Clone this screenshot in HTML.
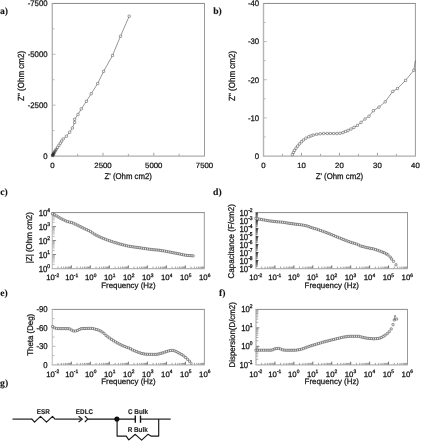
<!DOCTYPE html>
<html><head><meta charset="utf-8"><title>figure</title>
<style>
html,body{margin:0;padding:0;background:#fff;}
body{width:421px;height:441px;overflow:hidden;font-family:"Liberation Sans",sans-serif;}
svg{display:block;will-change:transform;filter:grayscale(1);}
text{text-rendering:geometricPrecision;}
</style></head><body>
<svg width="421" height="441" viewBox="0 0 421 441">
<rect width="421" height="441" fill="#fff"/>
<line x1="51.70" y1="3.45" x2="205.00" y2="3.45" stroke="#8a8a8a" stroke-width="1.0"/>
<line x1="204.50" y1="3.45" x2="204.50" y2="156.00" stroke="#9a9a9a" stroke-width="1.0"/>
<line x1="52.30" y1="3.45" x2="52.30" y2="156.00" stroke="#b4b4b4" stroke-width="1.4"/>
<line x1="51.70" y1="156.00" x2="205.00" y2="156.00" stroke="#aeaeae" stroke-width="1.25"/>
<line x1="77.67" y1="155.60" x2="77.67" y2="153.90" stroke="#777" stroke-width="0.7"/>
<line x1="52.80" y1="130.57" x2="54.50" y2="130.57" stroke="#aaa" stroke-width="0.8"/>
<line x1="103.03" y1="155.60" x2="103.03" y2="152.80" stroke="#777" stroke-width="0.7"/>
<line x1="52.80" y1="105.15" x2="55.60" y2="105.15" stroke="#aaa" stroke-width="0.8"/>
<line x1="128.40" y1="155.60" x2="128.40" y2="153.90" stroke="#777" stroke-width="0.7"/>
<line x1="52.80" y1="79.72" x2="54.50" y2="79.72" stroke="#aaa" stroke-width="0.8"/>
<line x1="153.77" y1="155.60" x2="153.77" y2="152.80" stroke="#777" stroke-width="0.7"/>
<line x1="52.80" y1="54.30" x2="55.60" y2="54.30" stroke="#aaa" stroke-width="0.8"/>
<line x1="179.13" y1="155.60" x2="179.13" y2="153.90" stroke="#777" stroke-width="0.7"/>
<line x1="52.80" y1="28.88" x2="54.50" y2="28.88" stroke="#aaa" stroke-width="0.8"/>
<text transform="translate(52.30 165.00) scale(1 0.98)" y="2.79" font-size="7.8" text-anchor="middle" font-family="Liberation Sans" font-weight="normal" fill="#161616" stroke="#161616" stroke-width="0.25">0</text>
<text transform="translate(103.03 165.00) scale(1 0.98)" y="2.79" font-size="7.8" text-anchor="middle" font-family="Liberation Sans" font-weight="normal" fill="#161616" stroke="#161616" stroke-width="0.25">2500</text>
<text transform="translate(153.77 165.00) scale(1 0.98)" y="2.79" font-size="7.8" text-anchor="middle" font-family="Liberation Sans" font-weight="normal" fill="#161616" stroke="#161616" stroke-width="0.25">5000</text>
<text transform="translate(204.50 165.00) scale(1 0.98)" y="2.79" font-size="7.8" text-anchor="middle" font-family="Liberation Sans" font-weight="normal" fill="#161616" stroke="#161616" stroke-width="0.25">7500</text>
<text transform="translate(47.60 155.90) scale(1 1.04)" y="2.79" font-size="7.8" text-anchor="end" font-family="Liberation Sans" font-weight="normal" fill="#161616" stroke="#161616" stroke-width="0.25">0</text>
<text transform="translate(47.60 105.05) scale(1 1.04)" y="2.79" font-size="7.8" text-anchor="end" font-family="Liberation Sans" font-weight="normal" fill="#161616" stroke="#161616" stroke-width="0.25">-2500</text>
<text transform="translate(47.60 54.20) scale(1 1.04)" y="2.79" font-size="7.8" text-anchor="end" font-family="Liberation Sans" font-weight="normal" fill="#161616" stroke="#161616" stroke-width="0.25">-5000</text>
<text transform="translate(47.60 3.35) scale(1 1.04)" y="2.79" font-size="7.8" text-anchor="end" font-family="Liberation Sans" font-weight="normal" fill="#161616" stroke="#161616" stroke-width="0.25">-7500</text>
<text transform="translate(128.20 176.10) scale(1 1.07)" y="2.79" font-size="7.8" text-anchor="middle" font-family="Liberation Sans" font-weight="normal" fill="#161616" stroke="#161616" stroke-width="0.25">Z' (Ohm cm2)</text>
<text transform="translate(20.90 75.90) rotate(-90) scale(1 1.1)" y="2.88" font-size="8.05" text-anchor="middle" font-family="Liberation Sans" font-weight="normal" fill="#161616" stroke="#161616" stroke-width="0.25">Z" (Ohm cm2)</text>
<polyline fill="none" stroke="#303030" stroke-width="0.5" stroke-linejoin="round" points="129.20,16.20 120.50,36.20 112.50,55.50 103.60,71.30 97.70,83.50 91.20,93.70 86.40,101.30 81.30,108.90 78.00,114.50 74.60,119.30 74.60,122.40 72.40,128.00 69.70,132.20 66.40,136.20 63.20,139.00 61.60,141.20 60.30,143.20 58.90,145.40 57.50,147.40 56.30,149.30 55.30,150.70 54.60,151.90 54.00,152.90 53.60,153.70 53.20,154.40 52.90,154.90 52.70,155.30 52.50,155.60"/>
<polyline fill="none" stroke="#2a2a2a" stroke-width="1.7" stroke-linejoin="round" points="52.50,155.50 53.80,153.40"/>
<polyline fill="none" stroke="#666" stroke-width="1.0" stroke-linejoin="round" points="53.80,153.40 55.00,151.40"/>
<rect x="128.05" y="15.05" width="2.3" height="2.3" rx="0.5" fill="#fff" stroke="#303030" stroke-width="0.45"/>
<rect x="119.35" y="35.05" width="2.3" height="2.3" rx="0.5" fill="#fff" stroke="#303030" stroke-width="0.45"/>
<rect x="111.35" y="54.35" width="2.3" height="2.3" rx="0.5" fill="#fff" stroke="#303030" stroke-width="0.45"/>
<rect x="102.45" y="70.15" width="2.3" height="2.3" rx="0.5" fill="#fff" stroke="#303030" stroke-width="0.45"/>
<rect x="96.55" y="82.35" width="2.3" height="2.3" rx="0.5" fill="#fff" stroke="#303030" stroke-width="0.45"/>
<rect x="90.05" y="92.55" width="2.3" height="2.3" rx="0.5" fill="#fff" stroke="#303030" stroke-width="0.45"/>
<rect x="85.25" y="100.15" width="2.3" height="2.3" rx="0.5" fill="#fff" stroke="#303030" stroke-width="0.45"/>
<rect x="80.15" y="107.75" width="2.3" height="2.3" rx="0.5" fill="#fff" stroke="#303030" stroke-width="0.45"/>
<rect x="76.85" y="113.35" width="2.3" height="2.3" rx="0.5" fill="#fff" stroke="#303030" stroke-width="0.45"/>
<rect x="73.45" y="118.15" width="2.3" height="2.3" rx="0.5" fill="#fff" stroke="#303030" stroke-width="0.45"/>
<rect x="73.45" y="121.25" width="2.3" height="2.3" rx="0.5" fill="#fff" stroke="#303030" stroke-width="0.45"/>
<rect x="71.25" y="126.85" width="2.3" height="2.3" rx="0.5" fill="#fff" stroke="#303030" stroke-width="0.45"/>
<rect x="68.55" y="131.05" width="2.3" height="2.3" rx="0.5" fill="#fff" stroke="#303030" stroke-width="0.45"/>
<rect x="65.25" y="135.05" width="2.3" height="2.3" rx="0.5" fill="#fff" stroke="#303030" stroke-width="0.45"/>
<rect x="62.05" y="137.85" width="2.3" height="2.3" rx="0.5" fill="#fff" stroke="#303030" stroke-width="0.45"/>
<rect x="60.45" y="140.05" width="2.3" height="2.3" rx="0.5" fill="#fff" stroke="#303030" stroke-width="0.45"/>
<rect x="59.15" y="142.05" width="2.3" height="2.3" rx="0.5" fill="#fff" stroke="#303030" stroke-width="0.45"/>
<rect x="57.75" y="144.25" width="2.3" height="2.3" rx="0.5" fill="#fff" stroke="#303030" stroke-width="0.45"/>
<rect x="56.35" y="146.25" width="2.3" height="2.3" rx="0.5" fill="#fff" stroke="#303030" stroke-width="0.45"/>
<rect x="55.15" y="148.15" width="2.3" height="2.3" rx="0.5" fill="none" stroke="#303030" stroke-width="0.45"/>
<rect x="54.15" y="149.55" width="2.3" height="2.3" rx="0.5" fill="none" stroke="#303030" stroke-width="0.45"/>
<rect x="53.45" y="150.75" width="2.3" height="2.3" rx="0.5" fill="none" stroke="#303030" stroke-width="0.45"/>
<rect x="52.85" y="151.75" width="2.3" height="2.3" rx="0.5" fill="none" stroke="#303030" stroke-width="0.45"/>
<rect x="52.45" y="152.55" width="2.3" height="2.3" rx="0.5" fill="none" stroke="#303030" stroke-width="0.45"/>
<rect x="52.05" y="153.25" width="2.3" height="2.3" rx="0.5" fill="none" stroke="#303030" stroke-width="0.45"/>
<rect x="51.75" y="153.75" width="2.3" height="2.3" rx="0.5" fill="none" stroke="#303030" stroke-width="0.45"/>
<rect x="51.55" y="154.15" width="2.3" height="2.3" rx="0.5" fill="none" stroke="#303030" stroke-width="0.45"/>
<rect x="51.35" y="154.45" width="2.3" height="2.3" rx="0.5" fill="none" stroke="#303030" stroke-width="0.45"/>
<line x1="262.90" y1="3.45" x2="415.90" y2="3.45" stroke="#8a8a8a" stroke-width="1.0"/>
<line x1="415.40" y1="3.45" x2="415.40" y2="156.00" stroke="#9a9a9a" stroke-width="1.0"/>
<line x1="263.50" y1="3.45" x2="263.50" y2="156.00" stroke="#b4b4b4" stroke-width="1.4"/>
<line x1="262.90" y1="156.00" x2="415.90" y2="156.00" stroke="#aeaeae" stroke-width="1.25"/>
<line x1="282.49" y1="155.60" x2="282.49" y2="153.90" stroke="#777" stroke-width="0.7"/>
<line x1="264.00" y1="136.93" x2="265.70" y2="136.93" stroke="#aaa" stroke-width="0.8"/>
<line x1="301.48" y1="155.60" x2="301.48" y2="152.80" stroke="#777" stroke-width="0.7"/>
<line x1="264.00" y1="117.86" x2="266.80" y2="117.86" stroke="#aaa" stroke-width="0.8"/>
<line x1="320.46" y1="155.60" x2="320.46" y2="153.90" stroke="#777" stroke-width="0.7"/>
<line x1="264.00" y1="98.79" x2="265.70" y2="98.79" stroke="#aaa" stroke-width="0.8"/>
<line x1="339.45" y1="155.60" x2="339.45" y2="152.80" stroke="#777" stroke-width="0.7"/>
<line x1="264.00" y1="79.72" x2="266.80" y2="79.72" stroke="#aaa" stroke-width="0.8"/>
<line x1="358.44" y1="155.60" x2="358.44" y2="153.90" stroke="#777" stroke-width="0.7"/>
<line x1="264.00" y1="60.66" x2="265.70" y2="60.66" stroke="#aaa" stroke-width="0.8"/>
<line x1="377.42" y1="155.60" x2="377.42" y2="152.80" stroke="#777" stroke-width="0.7"/>
<line x1="264.00" y1="41.59" x2="266.80" y2="41.59" stroke="#aaa" stroke-width="0.8"/>
<line x1="396.41" y1="155.60" x2="396.41" y2="153.90" stroke="#777" stroke-width="0.7"/>
<line x1="264.00" y1="22.52" x2="265.70" y2="22.52" stroke="#aaa" stroke-width="0.8"/>
<text transform="translate(263.50 165.00) scale(1 0.98)" y="2.79" font-size="7.8" text-anchor="middle" font-family="Liberation Sans" font-weight="normal" fill="#161616" stroke="#161616" stroke-width="0.25">0</text>
<text transform="translate(301.48 165.00) scale(1 0.98)" y="2.79" font-size="7.8" text-anchor="middle" font-family="Liberation Sans" font-weight="normal" fill="#161616" stroke="#161616" stroke-width="0.25">10</text>
<text transform="translate(339.45 165.00) scale(1 0.98)" y="2.79" font-size="7.8" text-anchor="middle" font-family="Liberation Sans" font-weight="normal" fill="#161616" stroke="#161616" stroke-width="0.25">20</text>
<text transform="translate(377.42 165.00) scale(1 0.98)" y="2.79" font-size="7.8" text-anchor="middle" font-family="Liberation Sans" font-weight="normal" fill="#161616" stroke="#161616" stroke-width="0.25">30</text>
<text transform="translate(415.40 165.00) scale(1 0.98)" y="2.79" font-size="7.8" text-anchor="middle" font-family="Liberation Sans" font-weight="normal" fill="#161616" stroke="#161616" stroke-width="0.25">40</text>
<text transform="translate(259.20 155.90) scale(1 1.04)" y="2.79" font-size="7.8" text-anchor="end" font-family="Liberation Sans" font-weight="normal" fill="#161616" stroke="#161616" stroke-width="0.25">0</text>
<text transform="translate(259.20 117.76) scale(1 1.04)" y="2.79" font-size="7.8" text-anchor="end" font-family="Liberation Sans" font-weight="normal" fill="#161616" stroke="#161616" stroke-width="0.25">-10</text>
<text transform="translate(259.20 79.62) scale(1 1.04)" y="2.79" font-size="7.8" text-anchor="end" font-family="Liberation Sans" font-weight="normal" fill="#161616" stroke="#161616" stroke-width="0.25">-20</text>
<text transform="translate(259.20 41.49) scale(1 1.04)" y="2.79" font-size="7.8" text-anchor="end" font-family="Liberation Sans" font-weight="normal" fill="#161616" stroke="#161616" stroke-width="0.25">-30</text>
<text transform="translate(259.20 3.35) scale(1 1.04)" y="2.79" font-size="7.8" text-anchor="end" font-family="Liberation Sans" font-weight="normal" fill="#161616" stroke="#161616" stroke-width="0.25">-40</text>
<text transform="translate(339.40 176.10) scale(1 1.07)" y="2.79" font-size="7.8" text-anchor="middle" font-family="Liberation Sans" font-weight="normal" fill="#161616" stroke="#161616" stroke-width="0.25">Z' (Ohm cm2)</text>
<text transform="translate(231.90 75.90) rotate(-90) scale(1 1.1)" y="2.88" font-size="8.05" text-anchor="middle" font-family="Liberation Sans" font-weight="normal" fill="#161616" stroke="#161616" stroke-width="0.25">Z" (Ohm cm2)</text>
<polyline fill="none" stroke="#303030" stroke-width="0.5" stroke-linejoin="round" points="415.40,60.50 413.80,70.30 405.50,80.40 397.50,88.50 392.80,91.40 385.20,101.80 379.00,107.10 373.40,110.70 369.00,116.20 365.00,119.00 361.00,122.40 357.40,125.40 354.00,127.40 351.00,129.00 348.00,130.50 345.50,131.50 343.00,132.50 340.10,133.30 337.00,133.50 333.70,133.50 330.40,133.50 327.30,133.50 323.70,133.50 320.20,133.80 316.60,134.30 313.10,135.10 310.90,135.90 308.80,136.80 305.90,138.20 303.40,140.00 301.40,141.80 299.50,143.90 297.70,146.10 296.00,148.20 294.50,150.40 293.40,152.50 292.40,154.60"/>
<rect x="412.65" y="69.15" width="2.3" height="2.3" rx="0.5" fill="#fff" stroke="#303030" stroke-width="0.45"/>
<rect x="404.35" y="79.25" width="2.3" height="2.3" rx="0.5" fill="#fff" stroke="#303030" stroke-width="0.45"/>
<rect x="396.35" y="87.35" width="2.3" height="2.3" rx="0.5" fill="#fff" stroke="#303030" stroke-width="0.45"/>
<rect x="391.65" y="90.25" width="2.3" height="2.3" rx="0.5" fill="#fff" stroke="#303030" stroke-width="0.45"/>
<rect x="384.05" y="100.65" width="2.3" height="2.3" rx="0.5" fill="#fff" stroke="#303030" stroke-width="0.45"/>
<rect x="377.85" y="105.95" width="2.3" height="2.3" rx="0.5" fill="#fff" stroke="#303030" stroke-width="0.45"/>
<rect x="372.25" y="109.55" width="2.3" height="2.3" rx="0.5" fill="#fff" stroke="#303030" stroke-width="0.45"/>
<rect x="367.85" y="115.05" width="2.3" height="2.3" rx="0.5" fill="#fff" stroke="#303030" stroke-width="0.45"/>
<rect x="363.85" y="117.85" width="2.3" height="2.3" rx="0.5" fill="#fff" stroke="#303030" stroke-width="0.45"/>
<rect x="359.85" y="121.25" width="2.3" height="2.3" rx="0.5" fill="#fff" stroke="#303030" stroke-width="0.45"/>
<rect x="356.25" y="124.25" width="2.3" height="2.3" rx="0.5" fill="#fff" stroke="#303030" stroke-width="0.45"/>
<rect x="352.85" y="126.25" width="2.3" height="2.3" rx="0.5" fill="#fff" stroke="#303030" stroke-width="0.45"/>
<rect x="349.85" y="127.85" width="2.3" height="2.3" rx="0.5" fill="#fff" stroke="#303030" stroke-width="0.45"/>
<rect x="346.85" y="129.35" width="2.3" height="2.3" rx="0.5" fill="#fff" stroke="#303030" stroke-width="0.45"/>
<rect x="344.35" y="130.35" width="2.3" height="2.3" rx="0.5" fill="#fff" stroke="#303030" stroke-width="0.45"/>
<rect x="341.85" y="131.35" width="2.3" height="2.3" rx="0.5" fill="#fff" stroke="#303030" stroke-width="0.45"/>
<rect x="338.95" y="132.15" width="2.3" height="2.3" rx="0.5" fill="#fff" stroke="#303030" stroke-width="0.45"/>
<rect x="335.85" y="132.35" width="2.3" height="2.3" rx="0.5" fill="#fff" stroke="#303030" stroke-width="0.45"/>
<rect x="332.55" y="132.35" width="2.3" height="2.3" rx="0.5" fill="#fff" stroke="#303030" stroke-width="0.45"/>
<rect x="329.25" y="132.35" width="2.3" height="2.3" rx="0.5" fill="#fff" stroke="#303030" stroke-width="0.45"/>
<rect x="326.15" y="132.35" width="2.3" height="2.3" rx="0.5" fill="#fff" stroke="#303030" stroke-width="0.45"/>
<rect x="322.55" y="132.35" width="2.3" height="2.3" rx="0.5" fill="#fff" stroke="#303030" stroke-width="0.45"/>
<rect x="319.05" y="132.65" width="2.3" height="2.3" rx="0.5" fill="#fff" stroke="#303030" stroke-width="0.45"/>
<rect x="315.45" y="133.15" width="2.3" height="2.3" rx="0.5" fill="#fff" stroke="#303030" stroke-width="0.45"/>
<rect x="311.95" y="133.95" width="2.3" height="2.3" rx="0.5" fill="#fff" stroke="#303030" stroke-width="0.45"/>
<rect x="309.75" y="134.75" width="2.3" height="2.3" rx="0.5" fill="#fff" stroke="#303030" stroke-width="0.45"/>
<rect x="307.65" y="135.65" width="2.3" height="2.3" rx="0.5" fill="#fff" stroke="#303030" stroke-width="0.45"/>
<rect x="304.75" y="137.05" width="2.3" height="2.3" rx="0.5" fill="#fff" stroke="#303030" stroke-width="0.45"/>
<rect x="302.25" y="138.85" width="2.3" height="2.3" rx="0.5" fill="#fff" stroke="#303030" stroke-width="0.45"/>
<rect x="300.25" y="140.65" width="2.3" height="2.3" rx="0.5" fill="#fff" stroke="#303030" stroke-width="0.45"/>
<rect x="298.35" y="142.75" width="2.3" height="2.3" rx="0.5" fill="#fff" stroke="#303030" stroke-width="0.45"/>
<rect x="296.55" y="144.95" width="2.3" height="2.3" rx="0.5" fill="#fff" stroke="#303030" stroke-width="0.45"/>
<rect x="294.85" y="147.05" width="2.3" height="2.3" rx="0.5" fill="#fff" stroke="#303030" stroke-width="0.45"/>
<rect x="293.35" y="149.25" width="2.3" height="2.3" rx="0.5" fill="#fff" stroke="#303030" stroke-width="0.45"/>
<rect x="292.25" y="151.35" width="2.3" height="2.3" rx="0.5" fill="#fff" stroke="#303030" stroke-width="0.45"/>
<rect x="291.25" y="153.45" width="2.3" height="2.3" rx="0.5" fill="#fff" stroke="#303030" stroke-width="0.45"/>
<line x1="51.70" y1="212.60" x2="204.80" y2="212.60" stroke="#8a8a8a" stroke-width="1.0"/>
<line x1="204.30" y1="212.60" x2="204.30" y2="268.50" stroke="#9a9a9a" stroke-width="1.0"/>
<line x1="52.30" y1="212.60" x2="52.30" y2="268.50" stroke="#c6c6c6" stroke-width="1.25"/>
<line x1="51.70" y1="268.50" x2="204.80" y2="268.50" stroke="#b6b6b6" stroke-width="1.25"/>
<line x1="58.02" y1="268.20" x2="58.02" y2="266.60" stroke="#5c5c5c" stroke-width="0.6"/>
<line x1="61.37" y1="268.20" x2="61.37" y2="266.60" stroke="#5c5c5c" stroke-width="0.6"/>
<line x1="63.74" y1="268.20" x2="63.74" y2="266.60" stroke="#5c5c5c" stroke-width="0.6"/>
<line x1="65.58" y1="268.20" x2="65.58" y2="266.60" stroke="#5c5c5c" stroke-width="0.6"/>
<line x1="67.08" y1="268.20" x2="67.08" y2="266.60" stroke="#5c5c5c" stroke-width="0.6"/>
<line x1="68.36" y1="268.20" x2="68.36" y2="266.60" stroke="#5c5c5c" stroke-width="0.6"/>
<line x1="69.46" y1="268.20" x2="69.46" y2="266.60" stroke="#5c5c5c" stroke-width="0.6"/>
<line x1="70.43" y1="268.20" x2="70.43" y2="266.60" stroke="#5c5c5c" stroke-width="0.6"/>
<line x1="71.30" y1="268.20" x2="71.30" y2="265.40" stroke="#484848" stroke-width="0.8"/>
<line x1="77.02" y1="268.20" x2="77.02" y2="266.60" stroke="#5c5c5c" stroke-width="0.6"/>
<line x1="80.37" y1="268.20" x2="80.37" y2="266.60" stroke="#5c5c5c" stroke-width="0.6"/>
<line x1="82.74" y1="268.20" x2="82.74" y2="266.60" stroke="#5c5c5c" stroke-width="0.6"/>
<line x1="84.58" y1="268.20" x2="84.58" y2="266.60" stroke="#5c5c5c" stroke-width="0.6"/>
<line x1="86.08" y1="268.20" x2="86.08" y2="266.60" stroke="#5c5c5c" stroke-width="0.6"/>
<line x1="87.36" y1="268.20" x2="87.36" y2="266.60" stroke="#5c5c5c" stroke-width="0.6"/>
<line x1="88.46" y1="268.20" x2="88.46" y2="266.60" stroke="#5c5c5c" stroke-width="0.6"/>
<line x1="89.43" y1="268.20" x2="89.43" y2="266.60" stroke="#5c5c5c" stroke-width="0.6"/>
<line x1="90.30" y1="268.20" x2="90.30" y2="265.40" stroke="#484848" stroke-width="0.8"/>
<line x1="96.02" y1="268.20" x2="96.02" y2="266.60" stroke="#5c5c5c" stroke-width="0.6"/>
<line x1="99.37" y1="268.20" x2="99.37" y2="266.60" stroke="#5c5c5c" stroke-width="0.6"/>
<line x1="101.74" y1="268.20" x2="101.74" y2="266.60" stroke="#5c5c5c" stroke-width="0.6"/>
<line x1="103.58" y1="268.20" x2="103.58" y2="266.60" stroke="#5c5c5c" stroke-width="0.6"/>
<line x1="105.08" y1="268.20" x2="105.08" y2="266.60" stroke="#5c5c5c" stroke-width="0.6"/>
<line x1="106.36" y1="268.20" x2="106.36" y2="266.60" stroke="#5c5c5c" stroke-width="0.6"/>
<line x1="107.46" y1="268.20" x2="107.46" y2="266.60" stroke="#5c5c5c" stroke-width="0.6"/>
<line x1="108.43" y1="268.20" x2="108.43" y2="266.60" stroke="#5c5c5c" stroke-width="0.6"/>
<line x1="109.30" y1="268.20" x2="109.30" y2="265.40" stroke="#484848" stroke-width="0.8"/>
<line x1="115.02" y1="268.20" x2="115.02" y2="266.60" stroke="#5c5c5c" stroke-width="0.6"/>
<line x1="118.37" y1="268.20" x2="118.37" y2="266.60" stroke="#5c5c5c" stroke-width="0.6"/>
<line x1="120.74" y1="268.20" x2="120.74" y2="266.60" stroke="#5c5c5c" stroke-width="0.6"/>
<line x1="122.58" y1="268.20" x2="122.58" y2="266.60" stroke="#5c5c5c" stroke-width="0.6"/>
<line x1="124.08" y1="268.20" x2="124.08" y2="266.60" stroke="#5c5c5c" stroke-width="0.6"/>
<line x1="125.36" y1="268.20" x2="125.36" y2="266.60" stroke="#5c5c5c" stroke-width="0.6"/>
<line x1="126.46" y1="268.20" x2="126.46" y2="266.60" stroke="#5c5c5c" stroke-width="0.6"/>
<line x1="127.43" y1="268.20" x2="127.43" y2="266.60" stroke="#5c5c5c" stroke-width="0.6"/>
<line x1="128.30" y1="268.20" x2="128.30" y2="265.40" stroke="#484848" stroke-width="0.8"/>
<line x1="134.02" y1="268.20" x2="134.02" y2="266.60" stroke="#5c5c5c" stroke-width="0.6"/>
<line x1="137.37" y1="268.20" x2="137.37" y2="266.60" stroke="#5c5c5c" stroke-width="0.6"/>
<line x1="139.74" y1="268.20" x2="139.74" y2="266.60" stroke="#5c5c5c" stroke-width="0.6"/>
<line x1="141.58" y1="268.20" x2="141.58" y2="266.60" stroke="#5c5c5c" stroke-width="0.6"/>
<line x1="143.08" y1="268.20" x2="143.08" y2="266.60" stroke="#5c5c5c" stroke-width="0.6"/>
<line x1="144.36" y1="268.20" x2="144.36" y2="266.60" stroke="#5c5c5c" stroke-width="0.6"/>
<line x1="145.46" y1="268.20" x2="145.46" y2="266.60" stroke="#5c5c5c" stroke-width="0.6"/>
<line x1="146.43" y1="268.20" x2="146.43" y2="266.60" stroke="#5c5c5c" stroke-width="0.6"/>
<line x1="147.30" y1="268.20" x2="147.30" y2="265.40" stroke="#484848" stroke-width="0.8"/>
<line x1="153.02" y1="268.20" x2="153.02" y2="266.60" stroke="#5c5c5c" stroke-width="0.6"/>
<line x1="156.37" y1="268.20" x2="156.37" y2="266.60" stroke="#5c5c5c" stroke-width="0.6"/>
<line x1="158.74" y1="268.20" x2="158.74" y2="266.60" stroke="#5c5c5c" stroke-width="0.6"/>
<line x1="160.58" y1="268.20" x2="160.58" y2="266.60" stroke="#5c5c5c" stroke-width="0.6"/>
<line x1="162.08" y1="268.20" x2="162.08" y2="266.60" stroke="#5c5c5c" stroke-width="0.6"/>
<line x1="163.36" y1="268.20" x2="163.36" y2="266.60" stroke="#5c5c5c" stroke-width="0.6"/>
<line x1="164.46" y1="268.20" x2="164.46" y2="266.60" stroke="#5c5c5c" stroke-width="0.6"/>
<line x1="165.43" y1="268.20" x2="165.43" y2="266.60" stroke="#5c5c5c" stroke-width="0.6"/>
<line x1="166.30" y1="268.20" x2="166.30" y2="265.40" stroke="#484848" stroke-width="0.8"/>
<line x1="172.02" y1="268.20" x2="172.02" y2="266.60" stroke="#5c5c5c" stroke-width="0.6"/>
<line x1="175.37" y1="268.20" x2="175.37" y2="266.60" stroke="#5c5c5c" stroke-width="0.6"/>
<line x1="177.74" y1="268.20" x2="177.74" y2="266.60" stroke="#5c5c5c" stroke-width="0.6"/>
<line x1="179.58" y1="268.20" x2="179.58" y2="266.60" stroke="#5c5c5c" stroke-width="0.6"/>
<line x1="181.08" y1="268.20" x2="181.08" y2="266.60" stroke="#5c5c5c" stroke-width="0.6"/>
<line x1="182.36" y1="268.20" x2="182.36" y2="266.60" stroke="#5c5c5c" stroke-width="0.6"/>
<line x1="183.46" y1="268.20" x2="183.46" y2="266.60" stroke="#5c5c5c" stroke-width="0.6"/>
<line x1="184.43" y1="268.20" x2="184.43" y2="266.60" stroke="#5c5c5c" stroke-width="0.6"/>
<line x1="185.30" y1="268.20" x2="185.30" y2="265.40" stroke="#484848" stroke-width="0.8"/>
<line x1="191.02" y1="268.20" x2="191.02" y2="266.60" stroke="#5c5c5c" stroke-width="0.6"/>
<line x1="194.37" y1="268.20" x2="194.37" y2="266.60" stroke="#5c5c5c" stroke-width="0.6"/>
<line x1="196.74" y1="268.20" x2="196.74" y2="266.60" stroke="#5c5c5c" stroke-width="0.6"/>
<line x1="198.58" y1="268.20" x2="198.58" y2="266.60" stroke="#5c5c5c" stroke-width="0.6"/>
<line x1="200.08" y1="268.20" x2="200.08" y2="266.60" stroke="#5c5c5c" stroke-width="0.6"/>
<line x1="201.36" y1="268.20" x2="201.36" y2="266.60" stroke="#5c5c5c" stroke-width="0.6"/>
<line x1="202.46" y1="268.20" x2="202.46" y2="266.60" stroke="#5c5c5c" stroke-width="0.6"/>
<line x1="203.43" y1="268.20" x2="203.43" y2="266.60" stroke="#5c5c5c" stroke-width="0.6"/>
<line x1="52.60" y1="264.29" x2="54.70" y2="264.29" stroke="#848484" stroke-width="0.6"/>
<line x1="52.60" y1="261.83" x2="54.70" y2="261.83" stroke="#848484" stroke-width="0.6"/>
<line x1="52.60" y1="260.09" x2="54.70" y2="260.09" stroke="#848484" stroke-width="0.6"/>
<line x1="52.60" y1="258.73" x2="54.70" y2="258.73" stroke="#848484" stroke-width="0.6"/>
<line x1="52.60" y1="257.63" x2="54.70" y2="257.63" stroke="#848484" stroke-width="0.6"/>
<line x1="52.60" y1="256.69" x2="54.70" y2="256.69" stroke="#848484" stroke-width="0.6"/>
<line x1="52.60" y1="255.88" x2="54.70" y2="255.88" stroke="#848484" stroke-width="0.6"/>
<line x1="52.60" y1="255.16" x2="54.70" y2="255.16" stroke="#848484" stroke-width="0.6"/>
<line x1="52.60" y1="254.53" x2="56.10" y2="254.53" stroke="#6a6a6a" stroke-width="0.8"/>
<line x1="52.60" y1="250.32" x2="54.70" y2="250.32" stroke="#848484" stroke-width="0.6"/>
<line x1="52.60" y1="247.86" x2="54.70" y2="247.86" stroke="#848484" stroke-width="0.6"/>
<line x1="52.60" y1="246.11" x2="54.70" y2="246.11" stroke="#848484" stroke-width="0.6"/>
<line x1="52.60" y1="244.76" x2="54.70" y2="244.76" stroke="#848484" stroke-width="0.6"/>
<line x1="52.60" y1="243.65" x2="54.70" y2="243.65" stroke="#848484" stroke-width="0.6"/>
<line x1="52.60" y1="242.71" x2="54.70" y2="242.71" stroke="#848484" stroke-width="0.6"/>
<line x1="52.60" y1="241.90" x2="54.70" y2="241.90" stroke="#848484" stroke-width="0.6"/>
<line x1="52.60" y1="241.19" x2="54.70" y2="241.19" stroke="#848484" stroke-width="0.6"/>
<line x1="52.60" y1="240.55" x2="56.10" y2="240.55" stroke="#6a6a6a" stroke-width="0.8"/>
<line x1="52.60" y1="236.34" x2="54.70" y2="236.34" stroke="#848484" stroke-width="0.6"/>
<line x1="52.60" y1="233.88" x2="54.70" y2="233.88" stroke="#848484" stroke-width="0.6"/>
<line x1="52.60" y1="232.14" x2="54.70" y2="232.14" stroke="#848484" stroke-width="0.6"/>
<line x1="52.60" y1="230.78" x2="54.70" y2="230.78" stroke="#848484" stroke-width="0.6"/>
<line x1="52.60" y1="229.68" x2="54.70" y2="229.68" stroke="#848484" stroke-width="0.6"/>
<line x1="52.60" y1="228.74" x2="54.70" y2="228.74" stroke="#848484" stroke-width="0.6"/>
<line x1="52.60" y1="227.93" x2="54.70" y2="227.93" stroke="#848484" stroke-width="0.6"/>
<line x1="52.60" y1="227.21" x2="54.70" y2="227.21" stroke="#848484" stroke-width="0.6"/>
<line x1="52.60" y1="226.57" x2="56.10" y2="226.57" stroke="#6a6a6a" stroke-width="0.8"/>
<line x1="52.60" y1="222.37" x2="54.70" y2="222.37" stroke="#848484" stroke-width="0.6"/>
<line x1="52.60" y1="219.91" x2="54.70" y2="219.91" stroke="#848484" stroke-width="0.6"/>
<line x1="52.60" y1="218.16" x2="54.70" y2="218.16" stroke="#848484" stroke-width="0.6"/>
<line x1="52.60" y1="216.81" x2="54.70" y2="216.81" stroke="#848484" stroke-width="0.6"/>
<line x1="52.60" y1="215.70" x2="54.70" y2="215.70" stroke="#848484" stroke-width="0.6"/>
<line x1="52.60" y1="214.76" x2="54.70" y2="214.76" stroke="#848484" stroke-width="0.6"/>
<line x1="52.60" y1="213.95" x2="54.70" y2="213.95" stroke="#848484" stroke-width="0.6"/>
<line x1="52.60" y1="213.24" x2="54.70" y2="213.24" stroke="#848484" stroke-width="0.6"/>
<text transform="translate(50.10 268.40) scale(1 1.12)" y="2.79" font-size="7.8" text-anchor="end" font-family="Liberation Sans" fill="#161616" stroke="#161616" stroke-width="0.27">10<tspan font-size="4.91" dy="-3.59">0</tspan></text>
<text transform="translate(50.10 254.43) scale(1 1.12)" y="2.79" font-size="7.8" text-anchor="end" font-family="Liberation Sans" fill="#161616" stroke="#161616" stroke-width="0.27">10<tspan font-size="4.91" dy="-3.59">1</tspan></text>
<text transform="translate(50.10 240.45) scale(1 1.12)" y="2.79" font-size="7.8" text-anchor="end" font-family="Liberation Sans" fill="#161616" stroke="#161616" stroke-width="0.27">10<tspan font-size="4.91" dy="-3.59">2</tspan></text>
<text transform="translate(50.10 226.47) scale(1 1.12)" y="2.79" font-size="7.8" text-anchor="end" font-family="Liberation Sans" fill="#161616" stroke="#161616" stroke-width="0.27">10<tspan font-size="4.91" dy="-3.59">3</tspan></text>
<text transform="translate(50.10 212.50) scale(1 1.12)" y="2.79" font-size="7.8" text-anchor="end" font-family="Liberation Sans" fill="#161616" stroke="#161616" stroke-width="0.27">10<tspan font-size="4.91" dy="-3.59">4</tspan></text>
<text transform="translate(52.70 277.40) scale(1 1.0)" y="2.79" font-size="7.8" text-anchor="middle" font-family="Liberation Sans" fill="#161616" stroke="#161616" stroke-width="0.27">10<tspan font-size="4.91" dy="-3.59">-2</tspan></text>
<text transform="translate(71.70 277.40) scale(1 1.0)" y="2.79" font-size="7.8" text-anchor="middle" font-family="Liberation Sans" fill="#161616" stroke="#161616" stroke-width="0.27">10<tspan font-size="4.91" dy="-3.59">-1</tspan></text>
<text transform="translate(90.70 277.40) scale(1 1.0)" y="2.79" font-size="7.8" text-anchor="middle" font-family="Liberation Sans" fill="#161616" stroke="#161616" stroke-width="0.27">10<tspan font-size="4.91" dy="-3.59">0</tspan></text>
<text transform="translate(109.70 277.40) scale(1 1.0)" y="2.79" font-size="7.8" text-anchor="middle" font-family="Liberation Sans" fill="#161616" stroke="#161616" stroke-width="0.27">10<tspan font-size="4.91" dy="-3.59">1</tspan></text>
<text transform="translate(128.70 277.40) scale(1 1.0)" y="2.79" font-size="7.8" text-anchor="middle" font-family="Liberation Sans" fill="#161616" stroke="#161616" stroke-width="0.27">10<tspan font-size="4.91" dy="-3.59">2</tspan></text>
<text transform="translate(147.70 277.40) scale(1 1.0)" y="2.79" font-size="7.8" text-anchor="middle" font-family="Liberation Sans" fill="#161616" stroke="#161616" stroke-width="0.27">10<tspan font-size="4.91" dy="-3.59">3</tspan></text>
<text transform="translate(166.70 277.40) scale(1 1.0)" y="2.79" font-size="7.8" text-anchor="middle" font-family="Liberation Sans" fill="#161616" stroke="#161616" stroke-width="0.27">10<tspan font-size="4.91" dy="-3.59">4</tspan></text>
<text transform="translate(185.70 277.40) scale(1 1.0)" y="2.79" font-size="7.8" text-anchor="middle" font-family="Liberation Sans" fill="#161616" stroke="#161616" stroke-width="0.27">10<tspan font-size="4.91" dy="-3.59">5</tspan></text>
<text transform="translate(204.70 277.40) scale(1 1.0)" y="2.79" font-size="7.8" text-anchor="middle" font-family="Liberation Sans" fill="#161616" stroke="#161616" stroke-width="0.27">10<tspan font-size="4.91" dy="-3.59">6</tspan></text>
<text transform="translate(128.40 284.80) scale(1 1.0)" y="2.83" font-size="7.9" text-anchor="middle" font-family="Liberation Sans" font-weight="normal" fill="#161616" stroke="#161616" stroke-width="0.25">Frequency (Hz)</text>
<text transform="translate(28.90 237.70) rotate(-90) scale(1 1.05)" y="2.86" font-size="8.0" text-anchor="middle" font-family="Liberation Sans" font-weight="normal" fill="#161616" stroke="#161616" stroke-width="0.25">|Z| (Ohm cm2)</text>
<rect x="51.48" y="212.67" width="2.05" height="2.05" rx="0.15" fill="#fff" stroke="#303030" stroke-width="0.5"/>
<rect x="53.38" y="213.76" width="2.05" height="2.05" rx="0.15" fill="#fff" stroke="#303030" stroke-width="0.5"/>
<rect x="55.27" y="214.85" width="2.05" height="2.05" rx="0.15" fill="#fff" stroke="#303030" stroke-width="0.5"/>
<rect x="57.17" y="215.94" width="2.05" height="2.05" rx="0.15" fill="#fff" stroke="#303030" stroke-width="0.5"/>
<rect x="59.07" y="217.03" width="2.05" height="2.05" rx="0.15" fill="#fff" stroke="#303030" stroke-width="0.5"/>
<rect x="60.97" y="218.06" width="2.05" height="2.05" rx="0.15" fill="#fff" stroke="#303030" stroke-width="0.5"/>
<rect x="62.87" y="218.96" width="2.05" height="2.05" rx="0.15" fill="#fff" stroke="#303030" stroke-width="0.5"/>
<rect x="64.77" y="219.86" width="2.05" height="2.05" rx="0.15" fill="#fff" stroke="#303030" stroke-width="0.5"/>
<rect x="66.67" y="220.62" width="2.05" height="2.05" rx="0.15" fill="#fff" stroke="#303030" stroke-width="0.5"/>
<rect x="68.58" y="221.09" width="2.05" height="2.05" rx="0.15" fill="#fff" stroke="#303030" stroke-width="0.5"/>
<rect x="70.48" y="221.56" width="2.05" height="2.05" rx="0.15" fill="#fff" stroke="#303030" stroke-width="0.5"/>
<rect x="72.38" y="222.17" width="2.05" height="2.05" rx="0.15" fill="#fff" stroke="#303030" stroke-width="0.5"/>
<rect x="74.28" y="223.10" width="2.05" height="2.05" rx="0.15" fill="#fff" stroke="#303030" stroke-width="0.5"/>
<rect x="76.18" y="224.04" width="2.05" height="2.05" rx="0.15" fill="#fff" stroke="#303030" stroke-width="0.5"/>
<rect x="78.08" y="224.97" width="2.05" height="2.05" rx="0.15" fill="#fff" stroke="#303030" stroke-width="0.5"/>
<rect x="79.98" y="225.90" width="2.05" height="2.05" rx="0.15" fill="#fff" stroke="#303030" stroke-width="0.5"/>
<rect x="81.88" y="226.84" width="2.05" height="2.05" rx="0.15" fill="#fff" stroke="#303030" stroke-width="0.5"/>
<rect x="83.78" y="227.76" width="2.05" height="2.05" rx="0.15" fill="#fff" stroke="#303030" stroke-width="0.5"/>
<rect x="85.68" y="228.66" width="2.05" height="2.05" rx="0.15" fill="#fff" stroke="#303030" stroke-width="0.5"/>
<rect x="87.58" y="229.56" width="2.05" height="2.05" rx="0.15" fill="#fff" stroke="#303030" stroke-width="0.5"/>
<rect x="89.48" y="230.58" width="2.05" height="2.05" rx="0.15" fill="#fff" stroke="#303030" stroke-width="0.5"/>
<rect x="91.38" y="231.84" width="2.05" height="2.05" rx="0.15" fill="#fff" stroke="#303030" stroke-width="0.5"/>
<rect x="93.28" y="233.11" width="2.05" height="2.05" rx="0.15" fill="#fff" stroke="#303030" stroke-width="0.5"/>
<rect x="95.18" y="234.15" width="2.05" height="2.05" rx="0.15" fill="#fff" stroke="#303030" stroke-width="0.5"/>
<rect x="97.08" y="235.07" width="2.05" height="2.05" rx="0.15" fill="#fff" stroke="#303030" stroke-width="0.5"/>
<rect x="98.98" y="235.99" width="2.05" height="2.05" rx="0.15" fill="#fff" stroke="#303030" stroke-width="0.5"/>
<rect x="100.88" y="236.80" width="2.05" height="2.05" rx="0.15" fill="#fff" stroke="#303030" stroke-width="0.5"/>
<rect x="102.78" y="237.56" width="2.05" height="2.05" rx="0.15" fill="#fff" stroke="#303030" stroke-width="0.5"/>
<rect x="104.68" y="238.33" width="2.05" height="2.05" rx="0.15" fill="#fff" stroke="#303030" stroke-width="0.5"/>
<rect x="106.58" y="239.08" width="2.05" height="2.05" rx="0.15" fill="#fff" stroke="#303030" stroke-width="0.5"/>
<rect x="108.48" y="239.71" width="2.05" height="2.05" rx="0.15" fill="#fff" stroke="#303030" stroke-width="0.5"/>
<rect x="110.38" y="240.34" width="2.05" height="2.05" rx="0.15" fill="#fff" stroke="#303030" stroke-width="0.5"/>
<rect x="112.28" y="240.98" width="2.05" height="2.05" rx="0.15" fill="#fff" stroke="#303030" stroke-width="0.5"/>
<rect x="114.18" y="241.56" width="2.05" height="2.05" rx="0.15" fill="#fff" stroke="#303030" stroke-width="0.5"/>
<rect x="116.08" y="242.13" width="2.05" height="2.05" rx="0.15" fill="#fff" stroke="#303030" stroke-width="0.5"/>
<rect x="117.98" y="242.70" width="2.05" height="2.05" rx="0.15" fill="#fff" stroke="#303030" stroke-width="0.5"/>
<rect x="119.88" y="243.25" width="2.05" height="2.05" rx="0.15" fill="#fff" stroke="#303030" stroke-width="0.5"/>
<rect x="121.78" y="243.74" width="2.05" height="2.05" rx="0.15" fill="#fff" stroke="#303030" stroke-width="0.5"/>
<rect x="123.68" y="244.23" width="2.05" height="2.05" rx="0.15" fill="#fff" stroke="#303030" stroke-width="0.5"/>
<rect x="125.58" y="244.72" width="2.05" height="2.05" rx="0.15" fill="#fff" stroke="#303030" stroke-width="0.5"/>
<rect x="127.48" y="245.09" width="2.05" height="2.05" rx="0.15" fill="#fff" stroke="#303030" stroke-width="0.5"/>
<rect x="129.38" y="245.40" width="2.05" height="2.05" rx="0.15" fill="#fff" stroke="#303030" stroke-width="0.5"/>
<rect x="131.28" y="245.71" width="2.05" height="2.05" rx="0.15" fill="#fff" stroke="#303030" stroke-width="0.5"/>
<rect x="133.18" y="246.02" width="2.05" height="2.05" rx="0.15" fill="#fff" stroke="#303030" stroke-width="0.5"/>
<rect x="135.08" y="246.28" width="2.05" height="2.05" rx="0.15" fill="#fff" stroke="#303030" stroke-width="0.5"/>
<rect x="136.98" y="246.53" width="2.05" height="2.05" rx="0.15" fill="#fff" stroke="#303030" stroke-width="0.5"/>
<rect x="138.88" y="246.79" width="2.05" height="2.05" rx="0.15" fill="#fff" stroke="#303030" stroke-width="0.5"/>
<rect x="140.78" y="247.07" width="2.05" height="2.05" rx="0.15" fill="#fff" stroke="#303030" stroke-width="0.5"/>
<rect x="142.68" y="247.35" width="2.05" height="2.05" rx="0.15" fill="#fff" stroke="#303030" stroke-width="0.5"/>
<rect x="144.58" y="247.64" width="2.05" height="2.05" rx="0.15" fill="#fff" stroke="#303030" stroke-width="0.5"/>
<rect x="146.48" y="247.91" width="2.05" height="2.05" rx="0.15" fill="#fff" stroke="#303030" stroke-width="0.5"/>
<rect x="148.38" y="248.16" width="2.05" height="2.05" rx="0.15" fill="#fff" stroke="#303030" stroke-width="0.5"/>
<rect x="150.28" y="248.41" width="2.05" height="2.05" rx="0.15" fill="#fff" stroke="#303030" stroke-width="0.5"/>
<rect x="152.18" y="248.63" width="2.05" height="2.05" rx="0.15" fill="#fff" stroke="#303030" stroke-width="0.5"/>
<rect x="154.08" y="248.80" width="2.05" height="2.05" rx="0.15" fill="#fff" stroke="#303030" stroke-width="0.5"/>
<rect x="155.98" y="248.97" width="2.05" height="2.05" rx="0.15" fill="#fff" stroke="#303030" stroke-width="0.5"/>
<rect x="157.88" y="249.14" width="2.05" height="2.05" rx="0.15" fill="#fff" stroke="#303030" stroke-width="0.5"/>
<rect x="159.78" y="249.43" width="2.05" height="2.05" rx="0.15" fill="#fff" stroke="#303030" stroke-width="0.5"/>
<rect x="161.68" y="249.74" width="2.05" height="2.05" rx="0.15" fill="#fff" stroke="#303030" stroke-width="0.5"/>
<rect x="163.58" y="250.06" width="2.05" height="2.05" rx="0.15" fill="#fff" stroke="#303030" stroke-width="0.5"/>
<rect x="165.48" y="250.39" width="2.05" height="2.05" rx="0.15" fill="#fff" stroke="#303030" stroke-width="0.5"/>
<rect x="167.38" y="250.76" width="2.05" height="2.05" rx="0.15" fill="#fff" stroke="#303030" stroke-width="0.5"/>
<rect x="169.28" y="251.13" width="2.05" height="2.05" rx="0.15" fill="#fff" stroke="#303030" stroke-width="0.5"/>
<rect x="171.18" y="251.50" width="2.05" height="2.05" rx="0.15" fill="#fff" stroke="#303030" stroke-width="0.5"/>
<rect x="173.08" y="251.87" width="2.05" height="2.05" rx="0.15" fill="#fff" stroke="#303030" stroke-width="0.5"/>
<rect x="174.98" y="252.24" width="2.05" height="2.05" rx="0.15" fill="#fff" stroke="#303030" stroke-width="0.5"/>
<rect x="176.88" y="252.62" width="2.05" height="2.05" rx="0.15" fill="#fff" stroke="#303030" stroke-width="0.5"/>
<rect x="178.78" y="253.00" width="2.05" height="2.05" rx="0.15" fill="#fff" stroke="#303030" stroke-width="0.5"/>
<rect x="180.68" y="253.40" width="2.05" height="2.05" rx="0.15" fill="#fff" stroke="#303030" stroke-width="0.5"/>
<rect x="182.58" y="253.79" width="2.05" height="2.05" rx="0.15" fill="#fff" stroke="#303030" stroke-width="0.5"/>
<rect x="184.48" y="254.19" width="2.05" height="2.05" rx="0.15" fill="#fff" stroke="#303030" stroke-width="0.5"/>
<rect x="186.38" y="254.39" width="2.05" height="2.05" rx="0.15" fill="#fff" stroke="#303030" stroke-width="0.5"/>
<rect x="188.28" y="254.53" width="2.05" height="2.05" rx="0.15" fill="#fff" stroke="#303030" stroke-width="0.5"/>
<rect x="190.18" y="254.68" width="2.05" height="2.05" rx="0.15" fill="#fff" stroke="#303030" stroke-width="0.5"/>
<rect x="192.08" y="254.81" width="2.05" height="2.05" rx="0.15" fill="#fff" stroke="#303030" stroke-width="0.5"/>
<line x1="255.40" y1="212.60" x2="408.00" y2="212.60" stroke="#8a8a8a" stroke-width="1.0"/>
<line x1="407.50" y1="212.60" x2="407.50" y2="268.50" stroke="#9a9a9a" stroke-width="1.0"/>
<line x1="256.00" y1="212.60" x2="256.00" y2="268.50" stroke="#a8a8a8" stroke-width="1.2"/>
<line x1="255.40" y1="268.50" x2="408.00" y2="268.50" stroke="#b6b6b6" stroke-width="1.25"/>
<line x1="261.70" y1="268.20" x2="261.70" y2="266.60" stroke="#5c5c5c" stroke-width="0.6"/>
<line x1="265.04" y1="268.20" x2="265.04" y2="266.60" stroke="#5c5c5c" stroke-width="0.6"/>
<line x1="267.40" y1="268.20" x2="267.40" y2="266.60" stroke="#5c5c5c" stroke-width="0.6"/>
<line x1="269.24" y1="268.20" x2="269.24" y2="266.60" stroke="#5c5c5c" stroke-width="0.6"/>
<line x1="270.74" y1="268.20" x2="270.74" y2="266.60" stroke="#5c5c5c" stroke-width="0.6"/>
<line x1="272.00" y1="268.20" x2="272.00" y2="266.60" stroke="#5c5c5c" stroke-width="0.6"/>
<line x1="273.10" y1="268.20" x2="273.10" y2="266.60" stroke="#5c5c5c" stroke-width="0.6"/>
<line x1="274.07" y1="268.20" x2="274.07" y2="266.60" stroke="#5c5c5c" stroke-width="0.6"/>
<line x1="274.94" y1="268.20" x2="274.94" y2="265.40" stroke="#484848" stroke-width="0.8"/>
<line x1="280.64" y1="268.20" x2="280.64" y2="266.60" stroke="#5c5c5c" stroke-width="0.6"/>
<line x1="283.97" y1="268.20" x2="283.97" y2="266.60" stroke="#5c5c5c" stroke-width="0.6"/>
<line x1="286.34" y1="268.20" x2="286.34" y2="266.60" stroke="#5c5c5c" stroke-width="0.6"/>
<line x1="288.17" y1="268.20" x2="288.17" y2="266.60" stroke="#5c5c5c" stroke-width="0.6"/>
<line x1="289.67" y1="268.20" x2="289.67" y2="266.60" stroke="#5c5c5c" stroke-width="0.6"/>
<line x1="290.94" y1="268.20" x2="290.94" y2="266.60" stroke="#5c5c5c" stroke-width="0.6"/>
<line x1="292.04" y1="268.20" x2="292.04" y2="266.60" stroke="#5c5c5c" stroke-width="0.6"/>
<line x1="293.01" y1="268.20" x2="293.01" y2="266.60" stroke="#5c5c5c" stroke-width="0.6"/>
<line x1="293.88" y1="268.20" x2="293.88" y2="265.40" stroke="#484848" stroke-width="0.8"/>
<line x1="299.58" y1="268.20" x2="299.58" y2="266.60" stroke="#5c5c5c" stroke-width="0.6"/>
<line x1="302.91" y1="268.20" x2="302.91" y2="266.60" stroke="#5c5c5c" stroke-width="0.6"/>
<line x1="305.28" y1="268.20" x2="305.28" y2="266.60" stroke="#5c5c5c" stroke-width="0.6"/>
<line x1="307.11" y1="268.20" x2="307.11" y2="266.60" stroke="#5c5c5c" stroke-width="0.6"/>
<line x1="308.61" y1="268.20" x2="308.61" y2="266.60" stroke="#5c5c5c" stroke-width="0.6"/>
<line x1="309.88" y1="268.20" x2="309.88" y2="266.60" stroke="#5c5c5c" stroke-width="0.6"/>
<line x1="310.98" y1="268.20" x2="310.98" y2="266.60" stroke="#5c5c5c" stroke-width="0.6"/>
<line x1="311.95" y1="268.20" x2="311.95" y2="266.60" stroke="#5c5c5c" stroke-width="0.6"/>
<line x1="312.81" y1="268.20" x2="312.81" y2="265.40" stroke="#484848" stroke-width="0.8"/>
<line x1="318.51" y1="268.20" x2="318.51" y2="266.60" stroke="#5c5c5c" stroke-width="0.6"/>
<line x1="321.85" y1="268.20" x2="321.85" y2="266.60" stroke="#5c5c5c" stroke-width="0.6"/>
<line x1="324.21" y1="268.20" x2="324.21" y2="266.60" stroke="#5c5c5c" stroke-width="0.6"/>
<line x1="326.05" y1="268.20" x2="326.05" y2="266.60" stroke="#5c5c5c" stroke-width="0.6"/>
<line x1="327.55" y1="268.20" x2="327.55" y2="266.60" stroke="#5c5c5c" stroke-width="0.6"/>
<line x1="328.82" y1="268.20" x2="328.82" y2="266.60" stroke="#5c5c5c" stroke-width="0.6"/>
<line x1="329.91" y1="268.20" x2="329.91" y2="266.60" stroke="#5c5c5c" stroke-width="0.6"/>
<line x1="330.88" y1="268.20" x2="330.88" y2="266.60" stroke="#5c5c5c" stroke-width="0.6"/>
<line x1="331.75" y1="268.20" x2="331.75" y2="265.40" stroke="#484848" stroke-width="0.8"/>
<line x1="337.45" y1="268.20" x2="337.45" y2="266.60" stroke="#5c5c5c" stroke-width="0.6"/>
<line x1="340.79" y1="268.20" x2="340.79" y2="266.60" stroke="#5c5c5c" stroke-width="0.6"/>
<line x1="343.15" y1="268.20" x2="343.15" y2="266.60" stroke="#5c5c5c" stroke-width="0.6"/>
<line x1="344.99" y1="268.20" x2="344.99" y2="266.60" stroke="#5c5c5c" stroke-width="0.6"/>
<line x1="346.49" y1="268.20" x2="346.49" y2="266.60" stroke="#5c5c5c" stroke-width="0.6"/>
<line x1="347.75" y1="268.20" x2="347.75" y2="266.60" stroke="#5c5c5c" stroke-width="0.6"/>
<line x1="348.85" y1="268.20" x2="348.85" y2="266.60" stroke="#5c5c5c" stroke-width="0.6"/>
<line x1="349.82" y1="268.20" x2="349.82" y2="266.60" stroke="#5c5c5c" stroke-width="0.6"/>
<line x1="350.69" y1="268.20" x2="350.69" y2="265.40" stroke="#484848" stroke-width="0.8"/>
<line x1="356.39" y1="268.20" x2="356.39" y2="266.60" stroke="#5c5c5c" stroke-width="0.6"/>
<line x1="359.72" y1="268.20" x2="359.72" y2="266.60" stroke="#5c5c5c" stroke-width="0.6"/>
<line x1="362.09" y1="268.20" x2="362.09" y2="266.60" stroke="#5c5c5c" stroke-width="0.6"/>
<line x1="363.92" y1="268.20" x2="363.92" y2="266.60" stroke="#5c5c5c" stroke-width="0.6"/>
<line x1="365.42" y1="268.20" x2="365.42" y2="266.60" stroke="#5c5c5c" stroke-width="0.6"/>
<line x1="366.69" y1="268.20" x2="366.69" y2="266.60" stroke="#5c5c5c" stroke-width="0.6"/>
<line x1="367.79" y1="268.20" x2="367.79" y2="266.60" stroke="#5c5c5c" stroke-width="0.6"/>
<line x1="368.76" y1="268.20" x2="368.76" y2="266.60" stroke="#5c5c5c" stroke-width="0.6"/>
<line x1="369.62" y1="268.20" x2="369.62" y2="265.40" stroke="#484848" stroke-width="0.8"/>
<line x1="375.33" y1="268.20" x2="375.33" y2="266.60" stroke="#5c5c5c" stroke-width="0.6"/>
<line x1="378.66" y1="268.20" x2="378.66" y2="266.60" stroke="#5c5c5c" stroke-width="0.6"/>
<line x1="381.03" y1="268.20" x2="381.03" y2="266.60" stroke="#5c5c5c" stroke-width="0.6"/>
<line x1="382.86" y1="268.20" x2="382.86" y2="266.60" stroke="#5c5c5c" stroke-width="0.6"/>
<line x1="384.36" y1="268.20" x2="384.36" y2="266.60" stroke="#5c5c5c" stroke-width="0.6"/>
<line x1="385.63" y1="268.20" x2="385.63" y2="266.60" stroke="#5c5c5c" stroke-width="0.6"/>
<line x1="386.73" y1="268.20" x2="386.73" y2="266.60" stroke="#5c5c5c" stroke-width="0.6"/>
<line x1="387.70" y1="268.20" x2="387.70" y2="266.60" stroke="#5c5c5c" stroke-width="0.6"/>
<line x1="388.56" y1="268.20" x2="388.56" y2="265.40" stroke="#484848" stroke-width="0.8"/>
<line x1="394.26" y1="268.20" x2="394.26" y2="266.60" stroke="#5c5c5c" stroke-width="0.6"/>
<line x1="397.60" y1="268.20" x2="397.60" y2="266.60" stroke="#5c5c5c" stroke-width="0.6"/>
<line x1="399.96" y1="268.20" x2="399.96" y2="266.60" stroke="#5c5c5c" stroke-width="0.6"/>
<line x1="401.80" y1="268.20" x2="401.80" y2="266.60" stroke="#5c5c5c" stroke-width="0.6"/>
<line x1="403.30" y1="268.20" x2="403.30" y2="266.60" stroke="#5c5c5c" stroke-width="0.6"/>
<line x1="404.57" y1="268.20" x2="404.57" y2="266.60" stroke="#5c5c5c" stroke-width="0.6"/>
<line x1="405.66" y1="268.20" x2="405.66" y2="266.60" stroke="#5c5c5c" stroke-width="0.6"/>
<line x1="406.63" y1="268.20" x2="406.63" y2="266.60" stroke="#5c5c5c" stroke-width="0.6"/>
<line x1="255.90" y1="266.10" x2="257.90" y2="266.10" stroke="#2e2e2e" stroke-width="0.62"/>
<line x1="255.90" y1="264.69" x2="257.90" y2="264.69" stroke="#2e2e2e" stroke-width="0.62"/>
<line x1="255.90" y1="263.69" x2="257.90" y2="263.69" stroke="#2e2e2e" stroke-width="0.62"/>
<line x1="255.90" y1="262.92" x2="257.90" y2="262.92" stroke="#2e2e2e" stroke-width="0.62"/>
<line x1="255.90" y1="262.29" x2="257.90" y2="262.29" stroke="#2e2e2e" stroke-width="0.62"/>
<line x1="255.90" y1="261.75" x2="257.90" y2="261.75" stroke="#2e2e2e" stroke-width="0.62"/>
<line x1="255.90" y1="261.29" x2="257.90" y2="261.29" stroke="#2e2e2e" stroke-width="0.62"/>
<line x1="255.90" y1="260.88" x2="257.90" y2="260.88" stroke="#2e2e2e" stroke-width="0.62"/>
<line x1="255.90" y1="260.51" x2="258.50" y2="260.51" stroke="#262626" stroke-width="0.8"/>
<line x1="255.90" y1="258.11" x2="257.90" y2="258.11" stroke="#2e2e2e" stroke-width="0.62"/>
<line x1="255.90" y1="256.70" x2="257.90" y2="256.70" stroke="#2e2e2e" stroke-width="0.62"/>
<line x1="255.90" y1="255.71" x2="257.90" y2="255.71" stroke="#2e2e2e" stroke-width="0.62"/>
<line x1="255.90" y1="254.93" x2="257.90" y2="254.93" stroke="#2e2e2e" stroke-width="0.62"/>
<line x1="255.90" y1="254.30" x2="257.90" y2="254.30" stroke="#2e2e2e" stroke-width="0.62"/>
<line x1="255.90" y1="253.77" x2="257.90" y2="253.77" stroke="#2e2e2e" stroke-width="0.62"/>
<line x1="255.90" y1="253.30" x2="257.90" y2="253.30" stroke="#2e2e2e" stroke-width="0.62"/>
<line x1="255.90" y1="252.89" x2="257.90" y2="252.89" stroke="#2e2e2e" stroke-width="0.62"/>
<line x1="255.90" y1="252.53" x2="258.50" y2="252.53" stroke="#262626" stroke-width="0.8"/>
<line x1="255.90" y1="250.12" x2="257.90" y2="250.12" stroke="#2e2e2e" stroke-width="0.62"/>
<line x1="255.90" y1="248.72" x2="257.90" y2="248.72" stroke="#2e2e2e" stroke-width="0.62"/>
<line x1="255.90" y1="247.72" x2="257.90" y2="247.72" stroke="#2e2e2e" stroke-width="0.62"/>
<line x1="255.90" y1="246.95" x2="257.90" y2="246.95" stroke="#2e2e2e" stroke-width="0.62"/>
<line x1="255.90" y1="246.31" x2="257.90" y2="246.31" stroke="#2e2e2e" stroke-width="0.62"/>
<line x1="255.90" y1="245.78" x2="257.90" y2="245.78" stroke="#2e2e2e" stroke-width="0.62"/>
<line x1="255.90" y1="245.32" x2="257.90" y2="245.32" stroke="#2e2e2e" stroke-width="0.62"/>
<line x1="255.90" y1="244.91" x2="257.90" y2="244.91" stroke="#2e2e2e" stroke-width="0.62"/>
<line x1="255.90" y1="244.54" x2="258.50" y2="244.54" stroke="#262626" stroke-width="0.8"/>
<line x1="255.90" y1="242.14" x2="257.90" y2="242.14" stroke="#2e2e2e" stroke-width="0.62"/>
<line x1="255.90" y1="240.73" x2="257.90" y2="240.73" stroke="#2e2e2e" stroke-width="0.62"/>
<line x1="255.90" y1="239.73" x2="257.90" y2="239.73" stroke="#2e2e2e" stroke-width="0.62"/>
<line x1="255.90" y1="238.96" x2="257.90" y2="238.96" stroke="#2e2e2e" stroke-width="0.62"/>
<line x1="255.90" y1="238.33" x2="257.90" y2="238.33" stroke="#2e2e2e" stroke-width="0.62"/>
<line x1="255.90" y1="237.79" x2="257.90" y2="237.79" stroke="#2e2e2e" stroke-width="0.62"/>
<line x1="255.90" y1="237.33" x2="257.90" y2="237.33" stroke="#2e2e2e" stroke-width="0.62"/>
<line x1="255.90" y1="236.92" x2="257.90" y2="236.92" stroke="#2e2e2e" stroke-width="0.62"/>
<line x1="255.90" y1="236.56" x2="258.50" y2="236.56" stroke="#262626" stroke-width="0.8"/>
<line x1="255.90" y1="234.15" x2="257.90" y2="234.15" stroke="#2e2e2e" stroke-width="0.62"/>
<line x1="255.90" y1="232.75" x2="257.90" y2="232.75" stroke="#2e2e2e" stroke-width="0.62"/>
<line x1="255.90" y1="231.75" x2="257.90" y2="231.75" stroke="#2e2e2e" stroke-width="0.62"/>
<line x1="255.90" y1="230.98" x2="257.90" y2="230.98" stroke="#2e2e2e" stroke-width="0.62"/>
<line x1="255.90" y1="230.34" x2="257.90" y2="230.34" stroke="#2e2e2e" stroke-width="0.62"/>
<line x1="255.90" y1="229.81" x2="257.90" y2="229.81" stroke="#2e2e2e" stroke-width="0.62"/>
<line x1="255.90" y1="229.35" x2="257.90" y2="229.35" stroke="#2e2e2e" stroke-width="0.62"/>
<line x1="255.90" y1="228.94" x2="257.90" y2="228.94" stroke="#2e2e2e" stroke-width="0.62"/>
<line x1="255.90" y1="228.57" x2="258.50" y2="228.57" stroke="#262626" stroke-width="0.8"/>
<line x1="255.90" y1="226.17" x2="257.90" y2="226.17" stroke="#2e2e2e" stroke-width="0.62"/>
<line x1="255.90" y1="224.76" x2="257.90" y2="224.76" stroke="#2e2e2e" stroke-width="0.62"/>
<line x1="255.90" y1="223.76" x2="257.90" y2="223.76" stroke="#2e2e2e" stroke-width="0.62"/>
<line x1="255.90" y1="222.99" x2="257.90" y2="222.99" stroke="#2e2e2e" stroke-width="0.62"/>
<line x1="255.90" y1="222.36" x2="257.90" y2="222.36" stroke="#2e2e2e" stroke-width="0.62"/>
<line x1="255.90" y1="221.82" x2="257.90" y2="221.82" stroke="#2e2e2e" stroke-width="0.62"/>
<line x1="255.90" y1="221.36" x2="257.90" y2="221.36" stroke="#2e2e2e" stroke-width="0.62"/>
<line x1="255.90" y1="220.95" x2="257.90" y2="220.95" stroke="#2e2e2e" stroke-width="0.62"/>
<line x1="255.90" y1="220.59" x2="258.50" y2="220.59" stroke="#262626" stroke-width="0.8"/>
<line x1="255.90" y1="218.18" x2="257.90" y2="218.18" stroke="#2e2e2e" stroke-width="0.62"/>
<line x1="255.90" y1="216.78" x2="257.90" y2="216.78" stroke="#2e2e2e" stroke-width="0.62"/>
<line x1="255.90" y1="215.78" x2="257.90" y2="215.78" stroke="#2e2e2e" stroke-width="0.62"/>
<line x1="255.90" y1="215.00" x2="257.90" y2="215.00" stroke="#2e2e2e" stroke-width="0.62"/>
<line x1="255.90" y1="214.37" x2="257.90" y2="214.37" stroke="#2e2e2e" stroke-width="0.62"/>
<line x1="255.90" y1="213.84" x2="257.90" y2="213.84" stroke="#2e2e2e" stroke-width="0.62"/>
<line x1="255.90" y1="213.37" x2="257.90" y2="213.37" stroke="#2e2e2e" stroke-width="0.62"/>
<line x1="255.90" y1="212.97" x2="257.90" y2="212.97" stroke="#2e2e2e" stroke-width="0.62"/>
<text transform="translate(252.60 268.40) scale(1 1.12)" y="2.79" font-size="7.8" text-anchor="end" font-family="Liberation Sans" fill="#161616" stroke="#161616" stroke-width="0.27">10<tspan font-size="4.91" dy="-3.59">-9</tspan></text>
<text transform="translate(252.60 260.41) scale(1 1.12)" y="2.79" font-size="7.8" text-anchor="end" font-family="Liberation Sans" fill="#161616" stroke="#161616" stroke-width="0.27">10<tspan font-size="4.91" dy="-3.59">-8</tspan></text>
<text transform="translate(252.60 252.43) scale(1 1.12)" y="2.79" font-size="7.8" text-anchor="end" font-family="Liberation Sans" fill="#161616" stroke="#161616" stroke-width="0.27">10<tspan font-size="4.91" dy="-3.59">-7</tspan></text>
<text transform="translate(252.60 244.44) scale(1 1.12)" y="2.79" font-size="7.8" text-anchor="end" font-family="Liberation Sans" fill="#161616" stroke="#161616" stroke-width="0.27">10<tspan font-size="4.91" dy="-3.59">-6</tspan></text>
<text transform="translate(252.60 236.46) scale(1 1.12)" y="2.79" font-size="7.8" text-anchor="end" font-family="Liberation Sans" fill="#161616" stroke="#161616" stroke-width="0.27">10<tspan font-size="4.91" dy="-3.59">-5</tspan></text>
<text transform="translate(252.60 228.47) scale(1 1.12)" y="2.79" font-size="7.8" text-anchor="end" font-family="Liberation Sans" fill="#161616" stroke="#161616" stroke-width="0.27">10<tspan font-size="4.91" dy="-3.59">-4</tspan></text>
<text transform="translate(252.60 220.49) scale(1 1.12)" y="2.79" font-size="7.8" text-anchor="end" font-family="Liberation Sans" fill="#161616" stroke="#161616" stroke-width="0.27">10<tspan font-size="4.91" dy="-3.59">-3</tspan></text>
<text transform="translate(252.60 212.50) scale(1 1.12)" y="2.79" font-size="7.8" text-anchor="end" font-family="Liberation Sans" fill="#161616" stroke="#161616" stroke-width="0.27">10<tspan font-size="4.91" dy="-3.59">-2</tspan></text>
<text transform="translate(255.80 277.40) scale(1 1.0)" y="2.79" font-size="7.8" text-anchor="middle" font-family="Liberation Sans" fill="#161616" stroke="#161616" stroke-width="0.27">10<tspan font-size="4.91" dy="-3.59">-2</tspan></text>
<text transform="translate(274.74 277.40) scale(1 1.0)" y="2.79" font-size="7.8" text-anchor="middle" font-family="Liberation Sans" fill="#161616" stroke="#161616" stroke-width="0.27">10<tspan font-size="4.91" dy="-3.59">-1</tspan></text>
<text transform="translate(293.68 277.40) scale(1 1.0)" y="2.79" font-size="7.8" text-anchor="middle" font-family="Liberation Sans" fill="#161616" stroke="#161616" stroke-width="0.27">10<tspan font-size="4.91" dy="-3.59">0</tspan></text>
<text transform="translate(312.61 277.40) scale(1 1.0)" y="2.79" font-size="7.8" text-anchor="middle" font-family="Liberation Sans" fill="#161616" stroke="#161616" stroke-width="0.27">10<tspan font-size="4.91" dy="-3.59">1</tspan></text>
<text transform="translate(331.55 277.40) scale(1 1.0)" y="2.79" font-size="7.8" text-anchor="middle" font-family="Liberation Sans" fill="#161616" stroke="#161616" stroke-width="0.27">10<tspan font-size="4.91" dy="-3.59">2</tspan></text>
<text transform="translate(350.49 277.40) scale(1 1.0)" y="2.79" font-size="7.8" text-anchor="middle" font-family="Liberation Sans" fill="#161616" stroke="#161616" stroke-width="0.27">10<tspan font-size="4.91" dy="-3.59">3</tspan></text>
<text transform="translate(369.43 277.40) scale(1 1.0)" y="2.79" font-size="7.8" text-anchor="middle" font-family="Liberation Sans" fill="#161616" stroke="#161616" stroke-width="0.27">10<tspan font-size="4.91" dy="-3.59">4</tspan></text>
<text transform="translate(388.36 277.40) scale(1 1.0)" y="2.79" font-size="7.8" text-anchor="middle" font-family="Liberation Sans" fill="#161616" stroke="#161616" stroke-width="0.27">10<tspan font-size="4.91" dy="-3.59">5</tspan></text>
<text transform="translate(407.30 277.40) scale(1 1.0)" y="2.79" font-size="7.8" text-anchor="middle" font-family="Liberation Sans" fill="#161616" stroke="#161616" stroke-width="0.27">10<tspan font-size="4.91" dy="-3.59">6</tspan></text>
<text transform="translate(331.80 284.80) scale(1 1.0)" y="2.83" font-size="7.9" text-anchor="middle" font-family="Liberation Sans" font-weight="normal" fill="#161616" stroke="#161616" stroke-width="0.25">Frequency (Hz)</text>
<text transform="translate(231.20 241.30) rotate(-90) scale(1 1.05)" y="2.86" font-size="8.0" text-anchor="middle" font-family="Liberation Sans" font-weight="normal" fill="#161616" stroke="#161616" stroke-width="0.25">Capacitance (F/cm2)</text>
<rect x="254.88" y="217.38" width="2.05" height="2.05" rx="0.15" fill="#fff" stroke="#303030" stroke-width="0.5"/>
<rect x="256.78" y="217.74" width="2.05" height="2.05" rx="0.15" fill="#fff" stroke="#303030" stroke-width="0.5"/>
<rect x="258.68" y="218.11" width="2.05" height="2.05" rx="0.15" fill="#fff" stroke="#303030" stroke-width="0.5"/>
<rect x="260.57" y="218.48" width="2.05" height="2.05" rx="0.15" fill="#fff" stroke="#303030" stroke-width="0.5"/>
<rect x="262.47" y="218.84" width="2.05" height="2.05" rx="0.15" fill="#fff" stroke="#303030" stroke-width="0.5"/>
<rect x="264.37" y="219.18" width="2.05" height="2.05" rx="0.15" fill="#fff" stroke="#303030" stroke-width="0.5"/>
<rect x="266.27" y="219.52" width="2.05" height="2.05" rx="0.15" fill="#fff" stroke="#303030" stroke-width="0.5"/>
<rect x="268.17" y="219.86" width="2.05" height="2.05" rx="0.15" fill="#fff" stroke="#303030" stroke-width="0.5"/>
<rect x="270.07" y="220.09" width="2.05" height="2.05" rx="0.15" fill="#fff" stroke="#303030" stroke-width="0.5"/>
<rect x="271.97" y="220.32" width="2.05" height="2.05" rx="0.15" fill="#fff" stroke="#303030" stroke-width="0.5"/>
<rect x="273.87" y="220.55" width="2.05" height="2.05" rx="0.15" fill="#fff" stroke="#303030" stroke-width="0.5"/>
<rect x="275.77" y="220.74" width="2.05" height="2.05" rx="0.15" fill="#fff" stroke="#303030" stroke-width="0.5"/>
<rect x="277.67" y="220.88" width="2.05" height="2.05" rx="0.15" fill="#fff" stroke="#303030" stroke-width="0.5"/>
<rect x="279.57" y="221.03" width="2.05" height="2.05" rx="0.15" fill="#fff" stroke="#303030" stroke-width="0.5"/>
<rect x="281.47" y="221.17" width="2.05" height="2.05" rx="0.15" fill="#fff" stroke="#303030" stroke-width="0.5"/>
<rect x="283.37" y="221.47" width="2.05" height="2.05" rx="0.15" fill="#fff" stroke="#303030" stroke-width="0.5"/>
<rect x="285.27" y="221.79" width="2.05" height="2.05" rx="0.15" fill="#fff" stroke="#303030" stroke-width="0.5"/>
<rect x="287.17" y="222.11" width="2.05" height="2.05" rx="0.15" fill="#fff" stroke="#303030" stroke-width="0.5"/>
<rect x="289.07" y="222.40" width="2.05" height="2.05" rx="0.15" fill="#fff" stroke="#303030" stroke-width="0.5"/>
<rect x="290.97" y="222.65" width="2.05" height="2.05" rx="0.15" fill="#fff" stroke="#303030" stroke-width="0.5"/>
<rect x="292.87" y="222.91" width="2.05" height="2.05" rx="0.15" fill="#fff" stroke="#303030" stroke-width="0.5"/>
<rect x="294.77" y="223.16" width="2.05" height="2.05" rx="0.15" fill="#fff" stroke="#303030" stroke-width="0.5"/>
<rect x="296.67" y="223.39" width="2.05" height="2.05" rx="0.15" fill="#fff" stroke="#303030" stroke-width="0.5"/>
<rect x="298.57" y="223.62" width="2.05" height="2.05" rx="0.15" fill="#fff" stroke="#303030" stroke-width="0.5"/>
<rect x="300.47" y="223.85" width="2.05" height="2.05" rx="0.15" fill="#fff" stroke="#303030" stroke-width="0.5"/>
<rect x="302.37" y="224.17" width="2.05" height="2.05" rx="0.15" fill="#fff" stroke="#303030" stroke-width="0.5"/>
<rect x="304.27" y="224.57" width="2.05" height="2.05" rx="0.15" fill="#fff" stroke="#303030" stroke-width="0.5"/>
<rect x="306.17" y="224.97" width="2.05" height="2.05" rx="0.15" fill="#fff" stroke="#303030" stroke-width="0.5"/>
<rect x="308.07" y="225.70" width="2.05" height="2.05" rx="0.15" fill="#fff" stroke="#303030" stroke-width="0.5"/>
<rect x="309.97" y="226.39" width="2.05" height="2.05" rx="0.15" fill="#fff" stroke="#303030" stroke-width="0.5"/>
<rect x="311.87" y="226.96" width="2.05" height="2.05" rx="0.15" fill="#fff" stroke="#303030" stroke-width="0.5"/>
<rect x="313.77" y="227.53" width="2.05" height="2.05" rx="0.15" fill="#fff" stroke="#303030" stroke-width="0.5"/>
<rect x="315.67" y="228.10" width="2.05" height="2.05" rx="0.15" fill="#fff" stroke="#303030" stroke-width="0.5"/>
<rect x="317.57" y="228.75" width="2.05" height="2.05" rx="0.15" fill="#fff" stroke="#303030" stroke-width="0.5"/>
<rect x="319.47" y="229.44" width="2.05" height="2.05" rx="0.15" fill="#fff" stroke="#303030" stroke-width="0.5"/>
<rect x="321.37" y="230.13" width="2.05" height="2.05" rx="0.15" fill="#fff" stroke="#303030" stroke-width="0.5"/>
<rect x="323.27" y="230.82" width="2.05" height="2.05" rx="0.15" fill="#fff" stroke="#303030" stroke-width="0.5"/>
<rect x="325.17" y="231.53" width="2.05" height="2.05" rx="0.15" fill="#fff" stroke="#303030" stroke-width="0.5"/>
<rect x="327.07" y="232.24" width="2.05" height="2.05" rx="0.15" fill="#fff" stroke="#303030" stroke-width="0.5"/>
<rect x="328.97" y="232.95" width="2.05" height="2.05" rx="0.15" fill="#fff" stroke="#303030" stroke-width="0.5"/>
<rect x="330.87" y="233.73" width="2.05" height="2.05" rx="0.15" fill="#fff" stroke="#303030" stroke-width="0.5"/>
<rect x="332.77" y="234.53" width="2.05" height="2.05" rx="0.15" fill="#fff" stroke="#303030" stroke-width="0.5"/>
<rect x="334.67" y="235.34" width="2.05" height="2.05" rx="0.15" fill="#fff" stroke="#303030" stroke-width="0.5"/>
<rect x="336.57" y="236.14" width="2.05" height="2.05" rx="0.15" fill="#fff" stroke="#303030" stroke-width="0.5"/>
<rect x="338.47" y="236.90" width="2.05" height="2.05" rx="0.15" fill="#fff" stroke="#303030" stroke-width="0.5"/>
<rect x="340.37" y="237.67" width="2.05" height="2.05" rx="0.15" fill="#fff" stroke="#303030" stroke-width="0.5"/>
<rect x="342.27" y="238.43" width="2.05" height="2.05" rx="0.15" fill="#fff" stroke="#303030" stroke-width="0.5"/>
<rect x="344.17" y="239.17" width="2.05" height="2.05" rx="0.15" fill="#fff" stroke="#303030" stroke-width="0.5"/>
<rect x="346.07" y="239.89" width="2.05" height="2.05" rx="0.15" fill="#fff" stroke="#303030" stroke-width="0.5"/>
<rect x="347.97" y="240.61" width="2.05" height="2.05" rx="0.15" fill="#fff" stroke="#303030" stroke-width="0.5"/>
<rect x="349.87" y="241.29" width="2.05" height="2.05" rx="0.15" fill="#fff" stroke="#303030" stroke-width="0.5"/>
<rect x="351.77" y="241.86" width="2.05" height="2.05" rx="0.15" fill="#fff" stroke="#303030" stroke-width="0.5"/>
<rect x="353.67" y="242.43" width="2.05" height="2.05" rx="0.15" fill="#fff" stroke="#303030" stroke-width="0.5"/>
<rect x="355.57" y="243.00" width="2.05" height="2.05" rx="0.15" fill="#fff" stroke="#303030" stroke-width="0.5"/>
<rect x="357.47" y="243.86" width="2.05" height="2.05" rx="0.15" fill="#fff" stroke="#303030" stroke-width="0.5"/>
<rect x="359.37" y="244.87" width="2.05" height="2.05" rx="0.15" fill="#fff" stroke="#303030" stroke-width="0.5"/>
<rect x="361.27" y="245.41" width="2.05" height="2.05" rx="0.15" fill="#fff" stroke="#303030" stroke-width="0.5"/>
<rect x="363.17" y="245.89" width="2.05" height="2.05" rx="0.15" fill="#fff" stroke="#303030" stroke-width="0.5"/>
<rect x="365.07" y="246.37" width="2.05" height="2.05" rx="0.15" fill="#fff" stroke="#303030" stroke-width="0.5"/>
<rect x="366.97" y="246.81" width="2.05" height="2.05" rx="0.15" fill="#fff" stroke="#303030" stroke-width="0.5"/>
<rect x="368.87" y="247.19" width="2.05" height="2.05" rx="0.15" fill="#fff" stroke="#303030" stroke-width="0.5"/>
<rect x="370.77" y="247.56" width="2.05" height="2.05" rx="0.15" fill="#fff" stroke="#303030" stroke-width="0.5"/>
<rect x="372.67" y="247.94" width="2.05" height="2.05" rx="0.15" fill="#fff" stroke="#303030" stroke-width="0.5"/>
<rect x="374.57" y="248.56" width="2.05" height="2.05" rx="0.15" fill="#fff" stroke="#303030" stroke-width="0.5"/>
<rect x="376.47" y="249.21" width="2.05" height="2.05" rx="0.15" fill="#fff" stroke="#303030" stroke-width="0.5"/>
<rect x="378.37" y="249.86" width="2.05" height="2.05" rx="0.15" fill="#fff" stroke="#303030" stroke-width="0.5"/>
<rect x="380.27" y="250.57" width="2.05" height="2.05" rx="0.15" fill="#fff" stroke="#303030" stroke-width="0.5"/>
<rect x="382.17" y="251.38" width="2.05" height="2.05" rx="0.15" fill="#fff" stroke="#303030" stroke-width="0.5"/>
<rect x="383.58" y="251.97" width="2.05" height="2.05" rx="0.15" fill="#fff" stroke="#303030" stroke-width="0.5"/>
<rect x="385.38" y="252.88" width="2.05" height="2.05" rx="0.15" fill="#fff" stroke="#303030" stroke-width="0.5"/>
<rect x="386.88" y="253.88" width="2.05" height="2.05" rx="0.15" fill="#fff" stroke="#303030" stroke-width="0.5"/>
<rect x="389.18" y="255.97" width="2.05" height="2.05" rx="0.15" fill="#fff" stroke="#303030" stroke-width="0.5"/>
<rect x="390.58" y="257.98" width="2.05" height="2.05" rx="0.15" fill="#fff" stroke="#303030" stroke-width="0.5"/>
<rect x="392.38" y="260.28" width="2.05" height="2.05" rx="0.15" fill="#fff" stroke="#303030" stroke-width="0.5"/>
<rect x="394.98" y="263.78" width="2.05" height="2.05" rx="0.15" fill="#fff" stroke="#303030" stroke-width="0.5"/>
<line x1="51.70" y1="309.40" x2="204.90" y2="309.40" stroke="#8a8a8a" stroke-width="1.0"/>
<line x1="204.40" y1="309.40" x2="204.40" y2="364.80" stroke="#9a9a9a" stroke-width="1.0"/>
<line x1="52.30" y1="309.40" x2="52.30" y2="364.80" stroke="#c6c6c6" stroke-width="1.25"/>
<line x1="51.70" y1="364.80" x2="204.90" y2="364.80" stroke="#b6b6b6" stroke-width="1.25"/>
<line x1="58.02" y1="364.50" x2="58.02" y2="362.90" stroke="#5c5c5c" stroke-width="0.6"/>
<line x1="61.37" y1="364.50" x2="61.37" y2="362.90" stroke="#5c5c5c" stroke-width="0.6"/>
<line x1="63.75" y1="364.50" x2="63.75" y2="362.90" stroke="#5c5c5c" stroke-width="0.6"/>
<line x1="65.59" y1="364.50" x2="65.59" y2="362.90" stroke="#5c5c5c" stroke-width="0.6"/>
<line x1="67.09" y1="364.50" x2="67.09" y2="362.90" stroke="#5c5c5c" stroke-width="0.6"/>
<line x1="68.37" y1="364.50" x2="68.37" y2="362.90" stroke="#5c5c5c" stroke-width="0.6"/>
<line x1="69.47" y1="364.50" x2="69.47" y2="362.90" stroke="#5c5c5c" stroke-width="0.6"/>
<line x1="70.44" y1="364.50" x2="70.44" y2="362.90" stroke="#5c5c5c" stroke-width="0.6"/>
<line x1="71.31" y1="364.50" x2="71.31" y2="361.70" stroke="#484848" stroke-width="0.8"/>
<line x1="77.04" y1="364.50" x2="77.04" y2="362.90" stroke="#5c5c5c" stroke-width="0.6"/>
<line x1="80.38" y1="364.50" x2="80.38" y2="362.90" stroke="#5c5c5c" stroke-width="0.6"/>
<line x1="82.76" y1="364.50" x2="82.76" y2="362.90" stroke="#5c5c5c" stroke-width="0.6"/>
<line x1="84.60" y1="364.50" x2="84.60" y2="362.90" stroke="#5c5c5c" stroke-width="0.6"/>
<line x1="86.11" y1="364.50" x2="86.11" y2="362.90" stroke="#5c5c5c" stroke-width="0.6"/>
<line x1="87.38" y1="364.50" x2="87.38" y2="362.90" stroke="#5c5c5c" stroke-width="0.6"/>
<line x1="88.48" y1="364.50" x2="88.48" y2="362.90" stroke="#5c5c5c" stroke-width="0.6"/>
<line x1="89.46" y1="364.50" x2="89.46" y2="362.90" stroke="#5c5c5c" stroke-width="0.6"/>
<line x1="90.33" y1="364.50" x2="90.33" y2="361.70" stroke="#484848" stroke-width="0.8"/>
<line x1="96.05" y1="364.50" x2="96.05" y2="362.90" stroke="#5c5c5c" stroke-width="0.6"/>
<line x1="99.40" y1="364.50" x2="99.40" y2="362.90" stroke="#5c5c5c" stroke-width="0.6"/>
<line x1="101.77" y1="364.50" x2="101.77" y2="362.90" stroke="#5c5c5c" stroke-width="0.6"/>
<line x1="103.61" y1="364.50" x2="103.61" y2="362.90" stroke="#5c5c5c" stroke-width="0.6"/>
<line x1="105.12" y1="364.50" x2="105.12" y2="362.90" stroke="#5c5c5c" stroke-width="0.6"/>
<line x1="106.39" y1="364.50" x2="106.39" y2="362.90" stroke="#5c5c5c" stroke-width="0.6"/>
<line x1="107.49" y1="364.50" x2="107.49" y2="362.90" stroke="#5c5c5c" stroke-width="0.6"/>
<line x1="108.47" y1="364.50" x2="108.47" y2="362.90" stroke="#5c5c5c" stroke-width="0.6"/>
<line x1="109.34" y1="364.50" x2="109.34" y2="361.70" stroke="#484848" stroke-width="0.8"/>
<line x1="115.06" y1="364.50" x2="115.06" y2="362.90" stroke="#5c5c5c" stroke-width="0.6"/>
<line x1="118.41" y1="364.50" x2="118.41" y2="362.90" stroke="#5c5c5c" stroke-width="0.6"/>
<line x1="120.78" y1="364.50" x2="120.78" y2="362.90" stroke="#5c5c5c" stroke-width="0.6"/>
<line x1="122.63" y1="364.50" x2="122.63" y2="362.90" stroke="#5c5c5c" stroke-width="0.6"/>
<line x1="124.13" y1="364.50" x2="124.13" y2="362.90" stroke="#5c5c5c" stroke-width="0.6"/>
<line x1="125.40" y1="364.50" x2="125.40" y2="362.90" stroke="#5c5c5c" stroke-width="0.6"/>
<line x1="126.51" y1="364.50" x2="126.51" y2="362.90" stroke="#5c5c5c" stroke-width="0.6"/>
<line x1="127.48" y1="364.50" x2="127.48" y2="362.90" stroke="#5c5c5c" stroke-width="0.6"/>
<line x1="128.35" y1="364.50" x2="128.35" y2="361.70" stroke="#484848" stroke-width="0.8"/>
<line x1="134.07" y1="364.50" x2="134.07" y2="362.90" stroke="#5c5c5c" stroke-width="0.6"/>
<line x1="137.42" y1="364.50" x2="137.42" y2="362.90" stroke="#5c5c5c" stroke-width="0.6"/>
<line x1="139.80" y1="364.50" x2="139.80" y2="362.90" stroke="#5c5c5c" stroke-width="0.6"/>
<line x1="141.64" y1="364.50" x2="141.64" y2="362.90" stroke="#5c5c5c" stroke-width="0.6"/>
<line x1="143.14" y1="364.50" x2="143.14" y2="362.90" stroke="#5c5c5c" stroke-width="0.6"/>
<line x1="144.42" y1="364.50" x2="144.42" y2="362.90" stroke="#5c5c5c" stroke-width="0.6"/>
<line x1="145.52" y1="364.50" x2="145.52" y2="362.90" stroke="#5c5c5c" stroke-width="0.6"/>
<line x1="146.49" y1="364.50" x2="146.49" y2="362.90" stroke="#5c5c5c" stroke-width="0.6"/>
<line x1="147.36" y1="364.50" x2="147.36" y2="361.70" stroke="#484848" stroke-width="0.8"/>
<line x1="153.09" y1="364.50" x2="153.09" y2="362.90" stroke="#5c5c5c" stroke-width="0.6"/>
<line x1="156.43" y1="364.50" x2="156.43" y2="362.90" stroke="#5c5c5c" stroke-width="0.6"/>
<line x1="158.81" y1="364.50" x2="158.81" y2="362.90" stroke="#5c5c5c" stroke-width="0.6"/>
<line x1="160.65" y1="364.50" x2="160.65" y2="362.90" stroke="#5c5c5c" stroke-width="0.6"/>
<line x1="162.16" y1="364.50" x2="162.16" y2="362.90" stroke="#5c5c5c" stroke-width="0.6"/>
<line x1="163.43" y1="364.50" x2="163.43" y2="362.90" stroke="#5c5c5c" stroke-width="0.6"/>
<line x1="164.53" y1="364.50" x2="164.53" y2="362.90" stroke="#5c5c5c" stroke-width="0.6"/>
<line x1="165.51" y1="364.50" x2="165.51" y2="362.90" stroke="#5c5c5c" stroke-width="0.6"/>
<line x1="166.38" y1="364.50" x2="166.38" y2="361.70" stroke="#484848" stroke-width="0.8"/>
<line x1="172.10" y1="364.50" x2="172.10" y2="362.90" stroke="#5c5c5c" stroke-width="0.6"/>
<line x1="175.45" y1="364.50" x2="175.45" y2="362.90" stroke="#5c5c5c" stroke-width="0.6"/>
<line x1="177.82" y1="364.50" x2="177.82" y2="362.90" stroke="#5c5c5c" stroke-width="0.6"/>
<line x1="179.66" y1="364.50" x2="179.66" y2="362.90" stroke="#5c5c5c" stroke-width="0.6"/>
<line x1="181.17" y1="364.50" x2="181.17" y2="362.90" stroke="#5c5c5c" stroke-width="0.6"/>
<line x1="182.44" y1="364.50" x2="182.44" y2="362.90" stroke="#5c5c5c" stroke-width="0.6"/>
<line x1="183.54" y1="364.50" x2="183.54" y2="362.90" stroke="#5c5c5c" stroke-width="0.6"/>
<line x1="184.52" y1="364.50" x2="184.52" y2="362.90" stroke="#5c5c5c" stroke-width="0.6"/>
<line x1="185.39" y1="364.50" x2="185.39" y2="361.70" stroke="#484848" stroke-width="0.8"/>
<line x1="191.11" y1="364.50" x2="191.11" y2="362.90" stroke="#5c5c5c" stroke-width="0.6"/>
<line x1="194.46" y1="364.50" x2="194.46" y2="362.90" stroke="#5c5c5c" stroke-width="0.6"/>
<line x1="196.83" y1="364.50" x2="196.83" y2="362.90" stroke="#5c5c5c" stroke-width="0.6"/>
<line x1="198.68" y1="364.50" x2="198.68" y2="362.90" stroke="#5c5c5c" stroke-width="0.6"/>
<line x1="200.18" y1="364.50" x2="200.18" y2="362.90" stroke="#5c5c5c" stroke-width="0.6"/>
<line x1="201.45" y1="364.50" x2="201.45" y2="362.90" stroke="#5c5c5c" stroke-width="0.6"/>
<line x1="202.56" y1="364.50" x2="202.56" y2="362.90" stroke="#5c5c5c" stroke-width="0.6"/>
<line x1="203.53" y1="364.50" x2="203.53" y2="362.90" stroke="#5c5c5c" stroke-width="0.6"/>
<line x1="52.70" y1="355.57" x2="54.50" y2="355.57" stroke="#9a9a9a" stroke-width="0.7"/>
<line x1="52.70" y1="346.33" x2="55.50" y2="346.33" stroke="#9a9a9a" stroke-width="0.7"/>
<line x1="52.70" y1="337.10" x2="54.50" y2="337.10" stroke="#9a9a9a" stroke-width="0.7"/>
<line x1="52.70" y1="327.87" x2="55.50" y2="327.87" stroke="#9a9a9a" stroke-width="0.7"/>
<line x1="52.70" y1="318.63" x2="54.50" y2="318.63" stroke="#9a9a9a" stroke-width="0.7"/>
<text transform="translate(47.70 364.60) scale(1 1.1)" y="2.79" font-size="7.8" text-anchor="end" font-family="Liberation Sans" font-weight="normal" fill="#161616" stroke="#161616" stroke-width="0.25">0</text>
<text transform="translate(47.70 346.13) scale(1 1.1)" y="2.79" font-size="7.8" text-anchor="end" font-family="Liberation Sans" font-weight="normal" fill="#161616" stroke="#161616" stroke-width="0.25">-30</text>
<text transform="translate(47.70 327.67) scale(1 1.1)" y="2.79" font-size="7.8" text-anchor="end" font-family="Liberation Sans" font-weight="normal" fill="#161616" stroke="#161616" stroke-width="0.25">-60</text>
<text transform="translate(47.70 309.20) scale(1 1.1)" y="2.79" font-size="7.8" text-anchor="end" font-family="Liberation Sans" font-weight="normal" fill="#161616" stroke="#161616" stroke-width="0.25">-90</text>
<text transform="translate(52.70 374.00) scale(1 1.0)" y="2.79" font-size="7.8" text-anchor="middle" font-family="Liberation Sans" fill="#161616" stroke="#161616" stroke-width="0.27">10<tspan font-size="4.91" dy="-3.59">-2</tspan></text>
<text transform="translate(71.71 374.00) scale(1 1.0)" y="2.79" font-size="7.8" text-anchor="middle" font-family="Liberation Sans" fill="#161616" stroke="#161616" stroke-width="0.27">10<tspan font-size="4.91" dy="-3.59">-1</tspan></text>
<text transform="translate(90.73 374.00) scale(1 1.0)" y="2.79" font-size="7.8" text-anchor="middle" font-family="Liberation Sans" fill="#161616" stroke="#161616" stroke-width="0.27">10<tspan font-size="4.91" dy="-3.59">0</tspan></text>
<text transform="translate(109.74 374.00) scale(1 1.0)" y="2.79" font-size="7.8" text-anchor="middle" font-family="Liberation Sans" fill="#161616" stroke="#161616" stroke-width="0.27">10<tspan font-size="4.91" dy="-3.59">1</tspan></text>
<text transform="translate(128.75 374.00) scale(1 1.0)" y="2.79" font-size="7.8" text-anchor="middle" font-family="Liberation Sans" fill="#161616" stroke="#161616" stroke-width="0.27">10<tspan font-size="4.91" dy="-3.59">2</tspan></text>
<text transform="translate(147.76 374.00) scale(1 1.0)" y="2.79" font-size="7.8" text-anchor="middle" font-family="Liberation Sans" fill="#161616" stroke="#161616" stroke-width="0.27">10<tspan font-size="4.91" dy="-3.59">3</tspan></text>
<text transform="translate(166.78 374.00) scale(1 1.0)" y="2.79" font-size="7.8" text-anchor="middle" font-family="Liberation Sans" fill="#161616" stroke="#161616" stroke-width="0.27">10<tspan font-size="4.91" dy="-3.59">4</tspan></text>
<text transform="translate(185.79 374.00) scale(1 1.0)" y="2.79" font-size="7.8" text-anchor="middle" font-family="Liberation Sans" fill="#161616" stroke="#161616" stroke-width="0.27">10<tspan font-size="4.91" dy="-3.59">5</tspan></text>
<text transform="translate(204.80 374.00) scale(1 1.0)" y="2.79" font-size="7.8" text-anchor="middle" font-family="Liberation Sans" fill="#161616" stroke="#161616" stroke-width="0.27">10<tspan font-size="4.91" dy="-3.59">6</tspan></text>
<text transform="translate(128.40 381.50) scale(1 1.0)" y="2.83" font-size="7.9" text-anchor="middle" font-family="Liberation Sans" font-weight="normal" fill="#161616" stroke="#161616" stroke-width="0.25">Frequency (Hz)</text>
<text transform="translate(29.80 334.80) rotate(-90) scale(1 1.05)" y="2.81" font-size="7.85" text-anchor="middle" font-family="Liberation Sans" font-weight="normal" fill="#161616" stroke="#161616" stroke-width="0.25">Theta (Deg)</text>
<rect x="51.68" y="325.58" width="2.05" height="2.05" rx="0.15" fill="#fff" stroke="#303030" stroke-width="0.5"/>
<rect x="53.58" y="326.88" width="2.05" height="2.05" rx="0.15" fill="#fff" stroke="#303030" stroke-width="0.5"/>
<rect x="55.48" y="327.37" width="2.05" height="2.05" rx="0.15" fill="#fff" stroke="#303030" stroke-width="0.5"/>
<rect x="57.38" y="327.58" width="2.05" height="2.05" rx="0.15" fill="#fff" stroke="#303030" stroke-width="0.5"/>
<rect x="59.27" y="327.58" width="2.05" height="2.05" rx="0.15" fill="#fff" stroke="#303030" stroke-width="0.5"/>
<rect x="61.17" y="327.58" width="2.05" height="2.05" rx="0.15" fill="#fff" stroke="#303030" stroke-width="0.5"/>
<rect x="63.07" y="327.58" width="2.05" height="2.05" rx="0.15" fill="#fff" stroke="#303030" stroke-width="0.5"/>
<rect x="64.97" y="327.58" width="2.05" height="2.05" rx="0.15" fill="#fff" stroke="#303030" stroke-width="0.5"/>
<rect x="66.88" y="327.58" width="2.05" height="2.05" rx="0.15" fill="#fff" stroke="#303030" stroke-width="0.5"/>
<rect x="68.78" y="327.90" width="2.05" height="2.05" rx="0.15" fill="#fff" stroke="#303030" stroke-width="0.5"/>
<rect x="70.68" y="329.10" width="2.05" height="2.05" rx="0.15" fill="#fff" stroke="#303030" stroke-width="0.5"/>
<rect x="72.58" y="329.98" width="2.05" height="2.05" rx="0.15" fill="#fff" stroke="#303030" stroke-width="0.5"/>
<rect x="74.48" y="329.98" width="2.05" height="2.05" rx="0.15" fill="#fff" stroke="#303030" stroke-width="0.5"/>
<rect x="76.38" y="329.36" width="2.05" height="2.05" rx="0.15" fill="#fff" stroke="#303030" stroke-width="0.5"/>
<rect x="78.28" y="328.52" width="2.05" height="2.05" rx="0.15" fill="#fff" stroke="#303030" stroke-width="0.5"/>
<rect x="80.18" y="327.58" width="2.05" height="2.05" rx="0.15" fill="#fff" stroke="#303030" stroke-width="0.5"/>
<rect x="82.08" y="327.52" width="2.05" height="2.05" rx="0.15" fill="#fff" stroke="#303030" stroke-width="0.5"/>
<rect x="83.98" y="327.47" width="2.05" height="2.05" rx="0.15" fill="#fff" stroke="#303030" stroke-width="0.5"/>
<rect x="85.88" y="327.42" width="2.05" height="2.05" rx="0.15" fill="#fff" stroke="#303030" stroke-width="0.5"/>
<rect x="87.78" y="327.36" width="2.05" height="2.05" rx="0.15" fill="#fff" stroke="#303030" stroke-width="0.5"/>
<rect x="89.68" y="327.31" width="2.05" height="2.05" rx="0.15" fill="#fff" stroke="#303030" stroke-width="0.5"/>
<rect x="91.58" y="327.45" width="2.05" height="2.05" rx="0.15" fill="#fff" stroke="#303030" stroke-width="0.5"/>
<rect x="93.48" y="327.93" width="2.05" height="2.05" rx="0.15" fill="#fff" stroke="#303030" stroke-width="0.5"/>
<rect x="95.38" y="328.43" width="2.05" height="2.05" rx="0.15" fill="#fff" stroke="#303030" stroke-width="0.5"/>
<rect x="97.28" y="329.00" width="2.05" height="2.05" rx="0.15" fill="#fff" stroke="#303030" stroke-width="0.5"/>
<rect x="99.18" y="329.85" width="2.05" height="2.05" rx="0.15" fill="#fff" stroke="#303030" stroke-width="0.5"/>
<rect x="101.08" y="330.94" width="2.05" height="2.05" rx="0.15" fill="#fff" stroke="#303030" stroke-width="0.5"/>
<rect x="102.98" y="332.38" width="2.05" height="2.05" rx="0.15" fill="#fff" stroke="#303030" stroke-width="0.5"/>
<rect x="104.88" y="334.28" width="2.05" height="2.05" rx="0.15" fill="#fff" stroke="#303030" stroke-width="0.5"/>
<rect x="106.78" y="335.80" width="2.05" height="2.05" rx="0.15" fill="#fff" stroke="#303030" stroke-width="0.5"/>
<rect x="108.68" y="337.10" width="2.05" height="2.05" rx="0.15" fill="#fff" stroke="#303030" stroke-width="0.5"/>
<rect x="110.58" y="338.41" width="2.05" height="2.05" rx="0.15" fill="#fff" stroke="#303030" stroke-width="0.5"/>
<rect x="112.48" y="339.69" width="2.05" height="2.05" rx="0.15" fill="#fff" stroke="#303030" stroke-width="0.5"/>
<rect x="114.38" y="340.78" width="2.05" height="2.05" rx="0.15" fill="#fff" stroke="#303030" stroke-width="0.5"/>
<rect x="116.28" y="341.88" width="2.05" height="2.05" rx="0.15" fill="#fff" stroke="#303030" stroke-width="0.5"/>
<rect x="118.18" y="342.97" width="2.05" height="2.05" rx="0.15" fill="#fff" stroke="#303030" stroke-width="0.5"/>
<rect x="120.08" y="343.89" width="2.05" height="2.05" rx="0.15" fill="#fff" stroke="#303030" stroke-width="0.5"/>
<rect x="121.98" y="344.72" width="2.05" height="2.05" rx="0.15" fill="#fff" stroke="#303030" stroke-width="0.5"/>
<rect x="123.88" y="345.54" width="2.05" height="2.05" rx="0.15" fill="#fff" stroke="#303030" stroke-width="0.5"/>
<rect x="125.78" y="346.34" width="2.05" height="2.05" rx="0.15" fill="#fff" stroke="#303030" stroke-width="0.5"/>
<rect x="127.68" y="346.91" width="2.05" height="2.05" rx="0.15" fill="#fff" stroke="#303030" stroke-width="0.5"/>
<rect x="129.58" y="347.77" width="2.05" height="2.05" rx="0.15" fill="#fff" stroke="#303030" stroke-width="0.5"/>
<rect x="131.48" y="348.92" width="2.05" height="2.05" rx="0.15" fill="#fff" stroke="#303030" stroke-width="0.5"/>
<rect x="133.38" y="349.71" width="2.05" height="2.05" rx="0.15" fill="#fff" stroke="#303030" stroke-width="0.5"/>
<rect x="135.28" y="350.50" width="2.05" height="2.05" rx="0.15" fill="#fff" stroke="#303030" stroke-width="0.5"/>
<rect x="137.18" y="351.21" width="2.05" height="2.05" rx="0.15" fill="#fff" stroke="#303030" stroke-width="0.5"/>
<rect x="139.08" y="351.84" width="2.05" height="2.05" rx="0.15" fill="#fff" stroke="#303030" stroke-width="0.5"/>
<rect x="140.98" y="352.48" width="2.05" height="2.05" rx="0.15" fill="#fff" stroke="#303030" stroke-width="0.5"/>
<rect x="142.88" y="352.88" width="2.05" height="2.05" rx="0.15" fill="#fff" stroke="#303030" stroke-width="0.5"/>
<rect x="144.78" y="353.17" width="2.05" height="2.05" rx="0.15" fill="#fff" stroke="#303030" stroke-width="0.5"/>
<rect x="146.68" y="353.29" width="2.05" height="2.05" rx="0.15" fill="#fff" stroke="#303030" stroke-width="0.5"/>
<rect x="148.58" y="353.31" width="2.05" height="2.05" rx="0.15" fill="#fff" stroke="#303030" stroke-width="0.5"/>
<rect x="150.48" y="353.33" width="2.05" height="2.05" rx="0.15" fill="#fff" stroke="#303030" stroke-width="0.5"/>
<rect x="152.38" y="353.35" width="2.05" height="2.05" rx="0.15" fill="#fff" stroke="#303030" stroke-width="0.5"/>
<rect x="154.28" y="353.37" width="2.05" height="2.05" rx="0.15" fill="#fff" stroke="#303030" stroke-width="0.5"/>
<rect x="156.18" y="353.28" width="2.05" height="2.05" rx="0.15" fill="#fff" stroke="#303030" stroke-width="0.5"/>
<rect x="158.08" y="352.80" width="2.05" height="2.05" rx="0.15" fill="#fff" stroke="#303030" stroke-width="0.5"/>
<rect x="159.98" y="352.30" width="2.05" height="2.05" rx="0.15" fill="#fff" stroke="#303030" stroke-width="0.5"/>
<rect x="161.88" y="351.77" width="2.05" height="2.05" rx="0.15" fill="#fff" stroke="#303030" stroke-width="0.5"/>
<rect x="163.78" y="351.10" width="2.05" height="2.05" rx="0.15" fill="#fff" stroke="#303030" stroke-width="0.5"/>
<rect x="165.68" y="350.43" width="2.05" height="2.05" rx="0.15" fill="#fff" stroke="#303030" stroke-width="0.5"/>
<rect x="167.58" y="349.87" width="2.05" height="2.05" rx="0.15" fill="#fff" stroke="#303030" stroke-width="0.5"/>
<rect x="169.48" y="349.54" width="2.05" height="2.05" rx="0.15" fill="#fff" stroke="#303030" stroke-width="0.5"/>
<rect x="171.38" y="349.36" width="2.05" height="2.05" rx="0.15" fill="#fff" stroke="#303030" stroke-width="0.5"/>
<rect x="173.28" y="349.76" width="2.05" height="2.05" rx="0.15" fill="#fff" stroke="#303030" stroke-width="0.5"/>
<rect x="175.18" y="350.49" width="2.05" height="2.05" rx="0.15" fill="#fff" stroke="#303030" stroke-width="0.5"/>
<rect x="177.08" y="351.59" width="2.05" height="2.05" rx="0.15" fill="#fff" stroke="#303030" stroke-width="0.5"/>
<rect x="178.98" y="352.61" width="2.05" height="2.05" rx="0.15" fill="#fff" stroke="#303030" stroke-width="0.5"/>
<rect x="180.88" y="353.61" width="2.05" height="2.05" rx="0.15" fill="#fff" stroke="#303030" stroke-width="0.5"/>
<rect x="182.78" y="354.97" width="2.05" height="2.05" rx="0.15" fill="#fff" stroke="#303030" stroke-width="0.5"/>
<rect x="184.68" y="356.53" width="2.05" height="2.05" rx="0.15" fill="#fff" stroke="#303030" stroke-width="0.5"/>
<rect x="186.58" y="358.28" width="2.05" height="2.05" rx="0.15" fill="#fff" stroke="#303030" stroke-width="0.5"/>
<rect x="188.48" y="360.22" width="2.05" height="2.05" rx="0.15" fill="#fff" stroke="#303030" stroke-width="0.5"/>
<rect x="190.25" y="362.25" width="1.9" height="1.9" rx="0.5" fill="#fff" stroke="#303030" stroke-width="0.42"/>
<line x1="255.40" y1="309.40" x2="408.00" y2="309.40" stroke="#8a8a8a" stroke-width="1.0"/>
<line x1="407.50" y1="309.40" x2="407.50" y2="364.80" stroke="#9a9a9a" stroke-width="1.0"/>
<line x1="256.00" y1="309.40" x2="256.00" y2="364.80" stroke="#b0b0b0" stroke-width="1.25"/>
<line x1="255.40" y1="364.80" x2="408.00" y2="364.80" stroke="#b6b6b6" stroke-width="1.25"/>
<line x1="261.70" y1="364.50" x2="261.70" y2="362.90" stroke="#5c5c5c" stroke-width="0.6"/>
<line x1="265.04" y1="364.50" x2="265.04" y2="362.90" stroke="#5c5c5c" stroke-width="0.6"/>
<line x1="267.40" y1="364.50" x2="267.40" y2="362.90" stroke="#5c5c5c" stroke-width="0.6"/>
<line x1="269.24" y1="364.50" x2="269.24" y2="362.90" stroke="#5c5c5c" stroke-width="0.6"/>
<line x1="270.74" y1="364.50" x2="270.74" y2="362.90" stroke="#5c5c5c" stroke-width="0.6"/>
<line x1="272.00" y1="364.50" x2="272.00" y2="362.90" stroke="#5c5c5c" stroke-width="0.6"/>
<line x1="273.10" y1="364.50" x2="273.10" y2="362.90" stroke="#5c5c5c" stroke-width="0.6"/>
<line x1="274.07" y1="364.50" x2="274.07" y2="362.90" stroke="#5c5c5c" stroke-width="0.6"/>
<line x1="274.94" y1="364.50" x2="274.94" y2="361.70" stroke="#484848" stroke-width="0.8"/>
<line x1="280.64" y1="364.50" x2="280.64" y2="362.90" stroke="#5c5c5c" stroke-width="0.6"/>
<line x1="283.97" y1="364.50" x2="283.97" y2="362.90" stroke="#5c5c5c" stroke-width="0.6"/>
<line x1="286.34" y1="364.50" x2="286.34" y2="362.90" stroke="#5c5c5c" stroke-width="0.6"/>
<line x1="288.17" y1="364.50" x2="288.17" y2="362.90" stroke="#5c5c5c" stroke-width="0.6"/>
<line x1="289.67" y1="364.50" x2="289.67" y2="362.90" stroke="#5c5c5c" stroke-width="0.6"/>
<line x1="290.94" y1="364.50" x2="290.94" y2="362.90" stroke="#5c5c5c" stroke-width="0.6"/>
<line x1="292.04" y1="364.50" x2="292.04" y2="362.90" stroke="#5c5c5c" stroke-width="0.6"/>
<line x1="293.01" y1="364.50" x2="293.01" y2="362.90" stroke="#5c5c5c" stroke-width="0.6"/>
<line x1="293.88" y1="364.50" x2="293.88" y2="361.70" stroke="#484848" stroke-width="0.8"/>
<line x1="299.58" y1="364.50" x2="299.58" y2="362.90" stroke="#5c5c5c" stroke-width="0.6"/>
<line x1="302.91" y1="364.50" x2="302.91" y2="362.90" stroke="#5c5c5c" stroke-width="0.6"/>
<line x1="305.28" y1="364.50" x2="305.28" y2="362.90" stroke="#5c5c5c" stroke-width="0.6"/>
<line x1="307.11" y1="364.50" x2="307.11" y2="362.90" stroke="#5c5c5c" stroke-width="0.6"/>
<line x1="308.61" y1="364.50" x2="308.61" y2="362.90" stroke="#5c5c5c" stroke-width="0.6"/>
<line x1="309.88" y1="364.50" x2="309.88" y2="362.90" stroke="#5c5c5c" stroke-width="0.6"/>
<line x1="310.98" y1="364.50" x2="310.98" y2="362.90" stroke="#5c5c5c" stroke-width="0.6"/>
<line x1="311.95" y1="364.50" x2="311.95" y2="362.90" stroke="#5c5c5c" stroke-width="0.6"/>
<line x1="312.81" y1="364.50" x2="312.81" y2="361.70" stroke="#484848" stroke-width="0.8"/>
<line x1="318.51" y1="364.50" x2="318.51" y2="362.90" stroke="#5c5c5c" stroke-width="0.6"/>
<line x1="321.85" y1="364.50" x2="321.85" y2="362.90" stroke="#5c5c5c" stroke-width="0.6"/>
<line x1="324.21" y1="364.50" x2="324.21" y2="362.90" stroke="#5c5c5c" stroke-width="0.6"/>
<line x1="326.05" y1="364.50" x2="326.05" y2="362.90" stroke="#5c5c5c" stroke-width="0.6"/>
<line x1="327.55" y1="364.50" x2="327.55" y2="362.90" stroke="#5c5c5c" stroke-width="0.6"/>
<line x1="328.82" y1="364.50" x2="328.82" y2="362.90" stroke="#5c5c5c" stroke-width="0.6"/>
<line x1="329.91" y1="364.50" x2="329.91" y2="362.90" stroke="#5c5c5c" stroke-width="0.6"/>
<line x1="330.88" y1="364.50" x2="330.88" y2="362.90" stroke="#5c5c5c" stroke-width="0.6"/>
<line x1="331.75" y1="364.50" x2="331.75" y2="361.70" stroke="#484848" stroke-width="0.8"/>
<line x1="337.45" y1="364.50" x2="337.45" y2="362.90" stroke="#5c5c5c" stroke-width="0.6"/>
<line x1="340.79" y1="364.50" x2="340.79" y2="362.90" stroke="#5c5c5c" stroke-width="0.6"/>
<line x1="343.15" y1="364.50" x2="343.15" y2="362.90" stroke="#5c5c5c" stroke-width="0.6"/>
<line x1="344.99" y1="364.50" x2="344.99" y2="362.90" stroke="#5c5c5c" stroke-width="0.6"/>
<line x1="346.49" y1="364.50" x2="346.49" y2="362.90" stroke="#5c5c5c" stroke-width="0.6"/>
<line x1="347.75" y1="364.50" x2="347.75" y2="362.90" stroke="#5c5c5c" stroke-width="0.6"/>
<line x1="348.85" y1="364.50" x2="348.85" y2="362.90" stroke="#5c5c5c" stroke-width="0.6"/>
<line x1="349.82" y1="364.50" x2="349.82" y2="362.90" stroke="#5c5c5c" stroke-width="0.6"/>
<line x1="350.69" y1="364.50" x2="350.69" y2="361.70" stroke="#484848" stroke-width="0.8"/>
<line x1="356.39" y1="364.50" x2="356.39" y2="362.90" stroke="#5c5c5c" stroke-width="0.6"/>
<line x1="359.72" y1="364.50" x2="359.72" y2="362.90" stroke="#5c5c5c" stroke-width="0.6"/>
<line x1="362.09" y1="364.50" x2="362.09" y2="362.90" stroke="#5c5c5c" stroke-width="0.6"/>
<line x1="363.92" y1="364.50" x2="363.92" y2="362.90" stroke="#5c5c5c" stroke-width="0.6"/>
<line x1="365.42" y1="364.50" x2="365.42" y2="362.90" stroke="#5c5c5c" stroke-width="0.6"/>
<line x1="366.69" y1="364.50" x2="366.69" y2="362.90" stroke="#5c5c5c" stroke-width="0.6"/>
<line x1="367.79" y1="364.50" x2="367.79" y2="362.90" stroke="#5c5c5c" stroke-width="0.6"/>
<line x1="368.76" y1="364.50" x2="368.76" y2="362.90" stroke="#5c5c5c" stroke-width="0.6"/>
<line x1="369.62" y1="364.50" x2="369.62" y2="361.70" stroke="#484848" stroke-width="0.8"/>
<line x1="375.33" y1="364.50" x2="375.33" y2="362.90" stroke="#5c5c5c" stroke-width="0.6"/>
<line x1="378.66" y1="364.50" x2="378.66" y2="362.90" stroke="#5c5c5c" stroke-width="0.6"/>
<line x1="381.03" y1="364.50" x2="381.03" y2="362.90" stroke="#5c5c5c" stroke-width="0.6"/>
<line x1="382.86" y1="364.50" x2="382.86" y2="362.90" stroke="#5c5c5c" stroke-width="0.6"/>
<line x1="384.36" y1="364.50" x2="384.36" y2="362.90" stroke="#5c5c5c" stroke-width="0.6"/>
<line x1="385.63" y1="364.50" x2="385.63" y2="362.90" stroke="#5c5c5c" stroke-width="0.6"/>
<line x1="386.73" y1="364.50" x2="386.73" y2="362.90" stroke="#5c5c5c" stroke-width="0.6"/>
<line x1="387.70" y1="364.50" x2="387.70" y2="362.90" stroke="#5c5c5c" stroke-width="0.6"/>
<line x1="388.56" y1="364.50" x2="388.56" y2="361.70" stroke="#484848" stroke-width="0.8"/>
<line x1="394.26" y1="364.50" x2="394.26" y2="362.90" stroke="#5c5c5c" stroke-width="0.6"/>
<line x1="397.60" y1="364.50" x2="397.60" y2="362.90" stroke="#5c5c5c" stroke-width="0.6"/>
<line x1="399.96" y1="364.50" x2="399.96" y2="362.90" stroke="#5c5c5c" stroke-width="0.6"/>
<line x1="401.80" y1="364.50" x2="401.80" y2="362.90" stroke="#5c5c5c" stroke-width="0.6"/>
<line x1="403.30" y1="364.50" x2="403.30" y2="362.90" stroke="#5c5c5c" stroke-width="0.6"/>
<line x1="404.57" y1="364.50" x2="404.57" y2="362.90" stroke="#5c5c5c" stroke-width="0.6"/>
<line x1="405.66" y1="364.50" x2="405.66" y2="362.90" stroke="#5c5c5c" stroke-width="0.6"/>
<line x1="406.63" y1="364.50" x2="406.63" y2="362.90" stroke="#5c5c5c" stroke-width="0.6"/>
<line x1="256.30" y1="359.24" x2="258.30" y2="359.24" stroke="#6a6a6a" stroke-width="0.6"/>
<line x1="256.30" y1="355.99" x2="258.30" y2="355.99" stroke="#6a6a6a" stroke-width="0.6"/>
<line x1="256.30" y1="353.68" x2="258.30" y2="353.68" stroke="#6a6a6a" stroke-width="0.6"/>
<line x1="256.30" y1="351.89" x2="258.30" y2="351.89" stroke="#6a6a6a" stroke-width="0.6"/>
<line x1="256.30" y1="350.43" x2="258.30" y2="350.43" stroke="#6a6a6a" stroke-width="0.6"/>
<line x1="256.30" y1="349.19" x2="258.30" y2="349.19" stroke="#6a6a6a" stroke-width="0.6"/>
<line x1="256.30" y1="348.12" x2="258.30" y2="348.12" stroke="#6a6a6a" stroke-width="0.6"/>
<line x1="256.30" y1="347.18" x2="258.30" y2="347.18" stroke="#6a6a6a" stroke-width="0.6"/>
<line x1="256.30" y1="346.33" x2="259.40" y2="346.33" stroke="#555" stroke-width="0.8"/>
<line x1="256.30" y1="340.77" x2="258.30" y2="340.77" stroke="#6a6a6a" stroke-width="0.6"/>
<line x1="256.30" y1="337.52" x2="258.30" y2="337.52" stroke="#6a6a6a" stroke-width="0.6"/>
<line x1="256.30" y1="335.22" x2="258.30" y2="335.22" stroke="#6a6a6a" stroke-width="0.6"/>
<line x1="256.30" y1="333.43" x2="258.30" y2="333.43" stroke="#6a6a6a" stroke-width="0.6"/>
<line x1="256.30" y1="331.96" x2="258.30" y2="331.96" stroke="#6a6a6a" stroke-width="0.6"/>
<line x1="256.30" y1="330.73" x2="258.30" y2="330.73" stroke="#6a6a6a" stroke-width="0.6"/>
<line x1="256.30" y1="329.66" x2="258.30" y2="329.66" stroke="#6a6a6a" stroke-width="0.6"/>
<line x1="256.30" y1="328.71" x2="258.30" y2="328.71" stroke="#6a6a6a" stroke-width="0.6"/>
<line x1="256.30" y1="327.87" x2="259.40" y2="327.87" stroke="#555" stroke-width="0.8"/>
<line x1="256.30" y1="322.31" x2="258.30" y2="322.31" stroke="#6a6a6a" stroke-width="0.6"/>
<line x1="256.30" y1="319.06" x2="258.30" y2="319.06" stroke="#6a6a6a" stroke-width="0.6"/>
<line x1="256.30" y1="316.75" x2="258.30" y2="316.75" stroke="#6a6a6a" stroke-width="0.6"/>
<line x1="256.30" y1="314.96" x2="258.30" y2="314.96" stroke="#6a6a6a" stroke-width="0.6"/>
<line x1="256.30" y1="313.50" x2="258.30" y2="313.50" stroke="#6a6a6a" stroke-width="0.6"/>
<line x1="256.30" y1="312.26" x2="258.30" y2="312.26" stroke="#6a6a6a" stroke-width="0.6"/>
<line x1="256.30" y1="311.19" x2="258.30" y2="311.19" stroke="#6a6a6a" stroke-width="0.6"/>
<line x1="256.30" y1="310.24" x2="258.30" y2="310.24" stroke="#6a6a6a" stroke-width="0.6"/>
<text transform="translate(252.60 364.70) scale(1 1.12)" y="2.79" font-size="7.8" text-anchor="end" font-family="Liberation Sans" fill="#161616" stroke="#161616" stroke-width="0.27">10<tspan font-size="4.91" dy="-3.59">-1</tspan></text>
<text transform="translate(252.60 346.23) scale(1 1.12)" y="2.79" font-size="7.8" text-anchor="end" font-family="Liberation Sans" fill="#161616" stroke="#161616" stroke-width="0.27">10<tspan font-size="4.91" dy="-3.59">0</tspan></text>
<text transform="translate(252.60 327.77) scale(1 1.12)" y="2.79" font-size="7.8" text-anchor="end" font-family="Liberation Sans" fill="#161616" stroke="#161616" stroke-width="0.27">10<tspan font-size="4.91" dy="-3.59">1</tspan></text>
<text transform="translate(252.60 309.30) scale(1 1.12)" y="2.79" font-size="7.8" text-anchor="end" font-family="Liberation Sans" fill="#161616" stroke="#161616" stroke-width="0.27">10<tspan font-size="4.91" dy="-3.59">2</tspan></text>
<text transform="translate(255.80 374.00) scale(1 1.0)" y="2.79" font-size="7.8" text-anchor="middle" font-family="Liberation Sans" fill="#161616" stroke="#161616" stroke-width="0.27">10<tspan font-size="4.91" dy="-3.59">-2</tspan></text>
<text transform="translate(274.74 374.00) scale(1 1.0)" y="2.79" font-size="7.8" text-anchor="middle" font-family="Liberation Sans" fill="#161616" stroke="#161616" stroke-width="0.27">10<tspan font-size="4.91" dy="-3.59">-1</tspan></text>
<text transform="translate(293.68 374.00) scale(1 1.0)" y="2.79" font-size="7.8" text-anchor="middle" font-family="Liberation Sans" fill="#161616" stroke="#161616" stroke-width="0.27">10<tspan font-size="4.91" dy="-3.59">0</tspan></text>
<text transform="translate(312.61 374.00) scale(1 1.0)" y="2.79" font-size="7.8" text-anchor="middle" font-family="Liberation Sans" fill="#161616" stroke="#161616" stroke-width="0.27">10<tspan font-size="4.91" dy="-3.59">1</tspan></text>
<text transform="translate(331.55 374.00) scale(1 1.0)" y="2.79" font-size="7.8" text-anchor="middle" font-family="Liberation Sans" fill="#161616" stroke="#161616" stroke-width="0.27">10<tspan font-size="4.91" dy="-3.59">2</tspan></text>
<text transform="translate(350.49 374.00) scale(1 1.0)" y="2.79" font-size="7.8" text-anchor="middle" font-family="Liberation Sans" fill="#161616" stroke="#161616" stroke-width="0.27">10<tspan font-size="4.91" dy="-3.59">3</tspan></text>
<text transform="translate(369.43 374.00) scale(1 1.0)" y="2.79" font-size="7.8" text-anchor="middle" font-family="Liberation Sans" fill="#161616" stroke="#161616" stroke-width="0.27">10<tspan font-size="4.91" dy="-3.59">4</tspan></text>
<text transform="translate(388.36 374.00) scale(1 1.0)" y="2.79" font-size="7.8" text-anchor="middle" font-family="Liberation Sans" fill="#161616" stroke="#161616" stroke-width="0.27">10<tspan font-size="4.91" dy="-3.59">5</tspan></text>
<text transform="translate(407.30 374.00) scale(1 1.0)" y="2.79" font-size="7.8" text-anchor="middle" font-family="Liberation Sans" fill="#161616" stroke="#161616" stroke-width="0.27">10<tspan font-size="4.91" dy="-3.59">6</tspan></text>
<text transform="translate(331.80 381.50) scale(1 1.0)" y="2.83" font-size="7.9" text-anchor="middle" font-family="Liberation Sans" font-weight="normal" fill="#161616" stroke="#161616" stroke-width="0.25">Frequency (Hz)</text>
<text transform="translate(232.40 334.80) rotate(-90) scale(1 1.05)" y="2.83" font-size="7.9" text-anchor="middle" font-family="Liberation Sans" font-weight="normal" fill="#161616" stroke="#161616" stroke-width="0.25">Dispersion(D/cm2)</text>
<rect x="254.88" y="349.18" width="2.05" height="2.05" rx="0.15" fill="#fff" stroke="#303030" stroke-width="0.5"/>
<rect x="256.78" y="349.18" width="2.05" height="2.05" rx="0.15" fill="#fff" stroke="#303030" stroke-width="0.5"/>
<rect x="258.68" y="349.18" width="2.05" height="2.05" rx="0.15" fill="#fff" stroke="#303030" stroke-width="0.5"/>
<rect x="260.57" y="349.18" width="2.05" height="2.05" rx="0.15" fill="#fff" stroke="#303030" stroke-width="0.5"/>
<rect x="262.47" y="349.18" width="2.05" height="2.05" rx="0.15" fill="#fff" stroke="#303030" stroke-width="0.5"/>
<rect x="264.37" y="349.18" width="2.05" height="2.05" rx="0.15" fill="#fff" stroke="#303030" stroke-width="0.5"/>
<rect x="266.27" y="349.18" width="2.05" height="2.05" rx="0.15" fill="#fff" stroke="#303030" stroke-width="0.5"/>
<rect x="268.17" y="349.18" width="2.05" height="2.05" rx="0.15" fill="#fff" stroke="#303030" stroke-width="0.5"/>
<rect x="270.07" y="349.18" width="2.05" height="2.05" rx="0.15" fill="#fff" stroke="#303030" stroke-width="0.5"/>
<rect x="271.97" y="348.69" width="2.05" height="2.05" rx="0.15" fill="#fff" stroke="#303030" stroke-width="0.5"/>
<rect x="273.87" y="347.77" width="2.05" height="2.05" rx="0.15" fill="#fff" stroke="#303030" stroke-width="0.5"/>
<rect x="275.77" y="347.46" width="2.05" height="2.05" rx="0.15" fill="#fff" stroke="#303030" stroke-width="0.5"/>
<rect x="277.67" y="347.32" width="2.05" height="2.05" rx="0.15" fill="#fff" stroke="#303030" stroke-width="0.5"/>
<rect x="279.57" y="347.97" width="2.05" height="2.05" rx="0.15" fill="#fff" stroke="#303030" stroke-width="0.5"/>
<rect x="281.47" y="348.78" width="2.05" height="2.05" rx="0.15" fill="#fff" stroke="#303030" stroke-width="0.5"/>
<rect x="283.37" y="349.13" width="2.05" height="2.05" rx="0.15" fill="#fff" stroke="#303030" stroke-width="0.5"/>
<rect x="285.27" y="349.26" width="2.05" height="2.05" rx="0.15" fill="#fff" stroke="#303030" stroke-width="0.5"/>
<rect x="287.17" y="349.25" width="2.05" height="2.05" rx="0.15" fill="#fff" stroke="#303030" stroke-width="0.5"/>
<rect x="289.07" y="349.23" width="2.05" height="2.05" rx="0.15" fill="#fff" stroke="#303030" stroke-width="0.5"/>
<rect x="290.97" y="349.21" width="2.05" height="2.05" rx="0.15" fill="#fff" stroke="#303030" stroke-width="0.5"/>
<rect x="292.87" y="349.19" width="2.05" height="2.05" rx="0.15" fill="#fff" stroke="#303030" stroke-width="0.5"/>
<rect x="294.77" y="349.18" width="2.05" height="2.05" rx="0.15" fill="#fff" stroke="#303030" stroke-width="0.5"/>
<rect x="296.67" y="348.87" width="2.05" height="2.05" rx="0.15" fill="#fff" stroke="#303030" stroke-width="0.5"/>
<rect x="298.57" y="348.55" width="2.05" height="2.05" rx="0.15" fill="#fff" stroke="#303030" stroke-width="0.5"/>
<rect x="300.47" y="348.16" width="2.05" height="2.05" rx="0.15" fill="#fff" stroke="#303030" stroke-width="0.5"/>
<rect x="302.37" y="347.45" width="2.05" height="2.05" rx="0.15" fill="#fff" stroke="#303030" stroke-width="0.5"/>
<rect x="304.27" y="346.74" width="2.05" height="2.05" rx="0.15" fill="#fff" stroke="#303030" stroke-width="0.5"/>
<rect x="306.17" y="346.07" width="2.05" height="2.05" rx="0.15" fill="#fff" stroke="#303030" stroke-width="0.5"/>
<rect x="308.07" y="345.40" width="2.05" height="2.05" rx="0.15" fill="#fff" stroke="#303030" stroke-width="0.5"/>
<rect x="309.97" y="344.76" width="2.05" height="2.05" rx="0.15" fill="#fff" stroke="#303030" stroke-width="0.5"/>
<rect x="311.87" y="344.19" width="2.05" height="2.05" rx="0.15" fill="#fff" stroke="#303030" stroke-width="0.5"/>
<rect x="313.77" y="343.62" width="2.05" height="2.05" rx="0.15" fill="#fff" stroke="#303030" stroke-width="0.5"/>
<rect x="315.67" y="343.05" width="2.05" height="2.05" rx="0.15" fill="#fff" stroke="#303030" stroke-width="0.5"/>
<rect x="317.57" y="342.48" width="2.05" height="2.05" rx="0.15" fill="#fff" stroke="#303030" stroke-width="0.5"/>
<rect x="319.47" y="341.91" width="2.05" height="2.05" rx="0.15" fill="#fff" stroke="#303030" stroke-width="0.5"/>
<rect x="321.37" y="341.33" width="2.05" height="2.05" rx="0.15" fill="#fff" stroke="#303030" stroke-width="0.5"/>
<rect x="323.27" y="340.77" width="2.05" height="2.05" rx="0.15" fill="#fff" stroke="#303030" stroke-width="0.5"/>
<rect x="325.17" y="340.29" width="2.05" height="2.05" rx="0.15" fill="#fff" stroke="#303030" stroke-width="0.5"/>
<rect x="327.07" y="339.81" width="2.05" height="2.05" rx="0.15" fill="#fff" stroke="#303030" stroke-width="0.5"/>
<rect x="328.97" y="339.33" width="2.05" height="2.05" rx="0.15" fill="#fff" stroke="#303030" stroke-width="0.5"/>
<rect x="330.87" y="338.86" width="2.05" height="2.05" rx="0.15" fill="#fff" stroke="#303030" stroke-width="0.5"/>
<rect x="332.77" y="338.40" width="2.05" height="2.05" rx="0.15" fill="#fff" stroke="#303030" stroke-width="0.5"/>
<rect x="334.67" y="337.94" width="2.05" height="2.05" rx="0.15" fill="#fff" stroke="#303030" stroke-width="0.5"/>
<rect x="336.57" y="337.48" width="2.05" height="2.05" rx="0.15" fill="#fff" stroke="#303030" stroke-width="0.5"/>
<rect x="338.47" y="337.03" width="2.05" height="2.05" rx="0.15" fill="#fff" stroke="#303030" stroke-width="0.5"/>
<rect x="340.37" y="336.57" width="2.05" height="2.05" rx="0.15" fill="#fff" stroke="#303030" stroke-width="0.5"/>
<rect x="342.27" y="336.12" width="2.05" height="2.05" rx="0.15" fill="#fff" stroke="#303030" stroke-width="0.5"/>
<rect x="344.17" y="335.80" width="2.05" height="2.05" rx="0.15" fill="#fff" stroke="#303030" stroke-width="0.5"/>
<rect x="346.07" y="335.55" width="2.05" height="2.05" rx="0.15" fill="#fff" stroke="#303030" stroke-width="0.5"/>
<rect x="347.97" y="335.30" width="2.05" height="2.05" rx="0.15" fill="#fff" stroke="#303030" stroke-width="0.5"/>
<rect x="349.87" y="335.28" width="2.05" height="2.05" rx="0.15" fill="#fff" stroke="#303030" stroke-width="0.5"/>
<rect x="351.77" y="335.28" width="2.05" height="2.05" rx="0.15" fill="#fff" stroke="#303030" stroke-width="0.5"/>
<rect x="353.67" y="335.28" width="2.05" height="2.05" rx="0.15" fill="#fff" stroke="#303030" stroke-width="0.5"/>
<rect x="355.57" y="335.28" width="2.05" height="2.05" rx="0.15" fill="#fff" stroke="#303030" stroke-width="0.5"/>
<rect x="357.47" y="335.28" width="2.05" height="2.05" rx="0.15" fill="#fff" stroke="#303030" stroke-width="0.5"/>
<rect x="359.37" y="335.70" width="2.05" height="2.05" rx="0.15" fill="#fff" stroke="#303030" stroke-width="0.5"/>
<rect x="361.27" y="336.23" width="2.05" height="2.05" rx="0.15" fill="#fff" stroke="#303030" stroke-width="0.5"/>
<rect x="363.17" y="336.63" width="2.05" height="2.05" rx="0.15" fill="#fff" stroke="#303030" stroke-width="0.5"/>
<rect x="365.07" y="337.02" width="2.05" height="2.05" rx="0.15" fill="#fff" stroke="#303030" stroke-width="0.5"/>
<rect x="366.97" y="337.33" width="2.05" height="2.05" rx="0.15" fill="#fff" stroke="#303030" stroke-width="0.5"/>
<rect x="368.87" y="337.47" width="2.05" height="2.05" rx="0.15" fill="#fff" stroke="#303030" stroke-width="0.5"/>
<rect x="370.77" y="337.62" width="2.05" height="2.05" rx="0.15" fill="#fff" stroke="#303030" stroke-width="0.5"/>
<rect x="372.67" y="337.76" width="2.05" height="2.05" rx="0.15" fill="#fff" stroke="#303030" stroke-width="0.5"/>
<rect x="374.57" y="337.62" width="2.05" height="2.05" rx="0.15" fill="#fff" stroke="#303030" stroke-width="0.5"/>
<rect x="376.47" y="337.44" width="2.05" height="2.05" rx="0.15" fill="#fff" stroke="#303030" stroke-width="0.5"/>
<rect x="378.37" y="337.24" width="2.05" height="2.05" rx="0.15" fill="#fff" stroke="#303030" stroke-width="0.5"/>
<rect x="380.27" y="336.51" width="2.05" height="2.05" rx="0.15" fill="#fff" stroke="#303030" stroke-width="0.5"/>
<rect x="382.17" y="335.41" width="2.05" height="2.05" rx="0.15" fill="#fff" stroke="#303030" stroke-width="0.5"/>
<rect x="384.07" y="334.13" width="2.05" height="2.05" rx="0.15" fill="#fff" stroke="#303030" stroke-width="0.5"/>
<rect x="386.18" y="332.68" width="2.05" height="2.05" rx="0.15" fill="#fff" stroke="#303030" stroke-width="0.5"/>
<rect x="388.18" y="330.68" width="2.05" height="2.05" rx="0.15" fill="#fff" stroke="#303030" stroke-width="0.5"/>
<rect x="390.18" y="327.88" width="2.05" height="2.05" rx="0.15" fill="#fff" stroke="#303030" stroke-width="0.5"/>
<rect x="391.98" y="323.58" width="2.05" height="2.05" rx="0.15" fill="#fff" stroke="#303030" stroke-width="0.5"/>
<rect x="393.28" y="318.98" width="2.05" height="2.05" rx="0.15" fill="#fff" stroke="#303030" stroke-width="0.5"/>
<rect x="395.58" y="317.98" width="2.05" height="2.05" rx="0.15" fill="#fff" stroke="#303030" stroke-width="0.5"/>
<polyline fill="none" stroke="#303030" stroke-width="0.5" stroke-linejoin="round" points="394.30,320.00 395.00,315.60"/>
<rect x="394.30" y="315.50" width="1.4" height="1.4" rx="0.5" fill="#fff" stroke="#303030" stroke-width="0.45"/>
<text x="0.0" y="13.7" font-size="9.7" font-family="Liberation Serif" font-weight="bold" fill="#141414" stroke="#141414" stroke-width="0.12">a)</text>
<text x="213.2" y="13.7" font-size="9.7" font-family="Liberation Serif" font-weight="bold" fill="#141414" stroke="#141414" stroke-width="0.12">b)</text>
<text x="0.2" y="194.6" font-size="9.7" font-family="Liberation Serif" font-weight="bold" fill="#141414" stroke="#141414" stroke-width="0.12">c)</text>
<text x="213.0" y="194.9" font-size="9.7" font-family="Liberation Serif" font-weight="bold" fill="#141414" stroke="#141414" stroke-width="0.12">d)</text>
<text x="0.2" y="295.7" font-size="9.7" font-family="Liberation Serif" font-weight="bold" fill="#141414" stroke="#141414" stroke-width="0.12">e)</text>
<text x="219.0" y="295.7" font-size="9.7" font-family="Liberation Serif" font-weight="bold" fill="#141414" stroke="#141414" stroke-width="0.12">f)</text>
<text x="0.1" y="385.7" font-size="9.7" font-family="Liberation Serif" font-weight="bold" fill="#141414" stroke="#141414" stroke-width="0.12">g)</text>
<line x1="12.50" y1="419.10" x2="32.00" y2="419.10" stroke="#161616" stroke-width="1.15"/>
<polyline fill="none" stroke="#161616" stroke-width="1.15" stroke-linejoin="round" points="31.50,419.10 32.00,419.10 34.50,422.10 40.50,416.40 46.50,422.10 52.50,416.40 55.00,419.10 55.50,419.10"/>
<line x1="55.40" y1="419.10" x2="81.00" y2="419.10" stroke="#161616" stroke-width="1.15"/>
<polyline fill="none" stroke="#161616" stroke-width="1.15" stroke-linejoin="round" points="78.60,416.20 82.40,419.10 78.60,422.00"/>
<polyline fill="none" stroke="#161616" stroke-width="1.15" stroke-linejoin="round" points="84.90,416.20 87.70,419.10 84.90,422.00"/>
<line x1="87.70" y1="419.10" x2="135.30" y2="419.10" stroke="#161616" stroke-width="1.15"/>
<circle cx="116.9" cy="419.1" r="2.55" fill="#0c0c0c"/>
<line x1="135.30" y1="415.60" x2="135.30" y2="422.80" stroke="#161616" stroke-width="1.4"/>
<line x1="140.50" y1="415.60" x2="140.50" y2="422.80" stroke="#161616" stroke-width="1.4"/>
<line x1="140.50" y1="419.10" x2="170.70" y2="419.10" stroke="#161616" stroke-width="1.15"/>
<polyline fill="none" stroke="#161616" stroke-width="1.15" stroke-linejoin="round" points="117.10,419.10 117.10,436.10 126.20,436.10 128.80,439.90 135.30,434.30 141.60,440.10 147.90,434.30 151.00,436.10 158.70,436.10 158.70,419.10"/>
<text transform="translate(43.30 411.90) scale(1 1.1)" y="2.27" font-size="6.35" text-anchor="middle" font-family="Liberation Sans" font-weight="bold" fill="#1c1c28" stroke="#1c1c28" stroke-width="0.12">ESR</text>
<text transform="translate(84.50 411.90) scale(1 1.1)" y="2.27" font-size="6.35" text-anchor="middle" font-family="Liberation Sans" font-weight="bold" fill="#1c1c28" stroke="#1c1c28" stroke-width="0.12">EDLC</text>
<text transform="translate(138.00 411.80) scale(1 1.1)" y="2.27" font-size="6.35" text-anchor="middle" font-family="Liberation Sans" font-weight="bold" fill="#1c1c28" stroke="#1c1c28" stroke-width="0.12">C Bulk</text>
<text transform="translate(137.70 429.20) scale(1 1.1)" y="2.27" font-size="6.35" text-anchor="middle" font-family="Liberation Sans" font-weight="bold" fill="#1c1c28" stroke="#1c1c28" stroke-width="0.12">R Bulk</text>
</svg>
</body></html>
